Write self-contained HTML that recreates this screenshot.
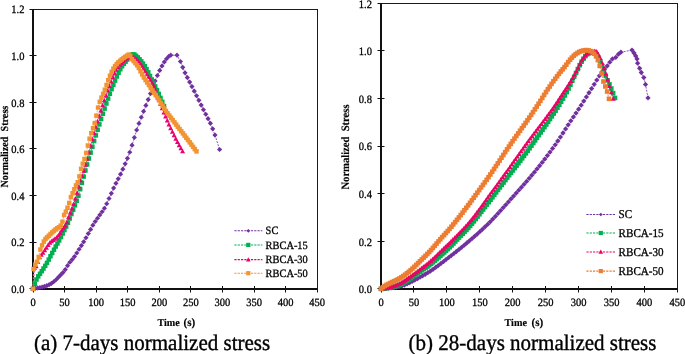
<!DOCTYPE html>
<html><head><meta charset="utf-8"><style>
html,body{margin:0;padding:0;background:#fff;}
body{width:685px;height:354px;overflow:hidden;}
svg{display:block;font-family:"Liberation Serif", serif;will-change:transform;text-rendering:geometricPrecision;}
text{fill:#000;}
.t{stroke:#000;stroke-width:0.28px;}
.b{stroke:#000;stroke-width:0.15px;}
.c{stroke:#000;stroke-width:0.35px;}
</style></head><body>
<svg width="685" height="354" viewBox="0 0 685 354">
<line x1="33" y1="9.5" x2="318.0" y2="9.5" stroke="#1a1a1a" stroke-width="1"/>
<line x1="317.5" y1="9.5" x2="317.5" y2="292.5" stroke="#1a1a1a" stroke-width="1"/>
<line x1="33" y1="9.0" x2="33" y2="290" stroke="#111" stroke-width="2"/>
<line x1="32" y1="289" x2="317.5" y2="289" stroke="#111" stroke-width="2"/>
<line x1="29.5" y1="288.5" x2="36.5" y2="288.5" stroke="#111" stroke-width="1"/>
<text class="t" transform="translate(24.40,293.10) scale(1,1.07)" font-size="10.5" text-anchor="end" xml:space="preserve">0.0</text>
<line x1="29.5" y1="242.5" x2="36.5" y2="242.5" stroke="#111" stroke-width="1"/>
<text class="t" transform="translate(24.40,246.47) scale(1,1.07)" font-size="10.5" text-anchor="end" xml:space="preserve">0.2</text>
<line x1="29.5" y1="195.5" x2="36.5" y2="195.5" stroke="#111" stroke-width="1"/>
<text class="t" transform="translate(24.40,199.83) scale(1,1.07)" font-size="10.5" text-anchor="end" xml:space="preserve">0.4</text>
<line x1="29.5" y1="148.5" x2="36.5" y2="148.5" stroke="#111" stroke-width="1"/>
<text class="t" transform="translate(24.40,153.20) scale(1,1.07)" font-size="10.5" text-anchor="end" xml:space="preserve">0.6</text>
<line x1="29.5" y1="102.5" x2="36.5" y2="102.5" stroke="#111" stroke-width="1"/>
<text class="t" transform="translate(24.40,106.57) scale(1,1.07)" font-size="10.5" text-anchor="end" xml:space="preserve">0.8</text>
<line x1="29.5" y1="55.5" x2="36.5" y2="55.5" stroke="#111" stroke-width="1"/>
<text class="t" transform="translate(24.40,59.93) scale(1,1.07)" font-size="10.5" text-anchor="end" xml:space="preserve">1.0</text>
<line x1="29.5" y1="9.5" x2="33" y2="9.5" stroke="#111" stroke-width="1"/>
<text class="t" transform="translate(24.40,13.30) scale(1,1.07)" font-size="10.5" text-anchor="end" xml:space="preserve">1.2</text>
<line x1="33.5" y1="286" x2="33.5" y2="292.5" stroke="#111" stroke-width="1"/>
<text class="t" transform="translate(33.00,306.00) scale(1,1.07)" font-size="10.5" text-anchor="middle" xml:space="preserve">0</text>
<line x1="64.5" y1="286" x2="64.5" y2="292.5" stroke="#111" stroke-width="1"/>
<text class="t" transform="translate(64.58,306.00) scale(1,1.07)" font-size="10.5" text-anchor="middle" xml:space="preserve">50</text>
<line x1="96.5" y1="286" x2="96.5" y2="292.5" stroke="#111" stroke-width="1"/>
<text class="t" transform="translate(96.16,306.00) scale(1,1.07)" font-size="10.5" text-anchor="middle" xml:space="preserve">100</text>
<line x1="127.5" y1="286" x2="127.5" y2="292.5" stroke="#111" stroke-width="1"/>
<text class="t" transform="translate(127.73,306.00) scale(1,1.07)" font-size="10.5" text-anchor="middle" xml:space="preserve">150</text>
<line x1="159.5" y1="286" x2="159.5" y2="292.5" stroke="#111" stroke-width="1"/>
<text class="t" transform="translate(159.31,306.00) scale(1,1.07)" font-size="10.5" text-anchor="middle" xml:space="preserve">200</text>
<line x1="190.5" y1="286" x2="190.5" y2="292.5" stroke="#111" stroke-width="1"/>
<text class="t" transform="translate(190.89,306.00) scale(1,1.07)" font-size="10.5" text-anchor="middle" xml:space="preserve">250</text>
<line x1="222.5" y1="286" x2="222.5" y2="292.5" stroke="#111" stroke-width="1"/>
<text class="t" transform="translate(222.47,306.00) scale(1,1.07)" font-size="10.5" text-anchor="middle" xml:space="preserve">300</text>
<line x1="254.5" y1="286" x2="254.5" y2="292.5" stroke="#111" stroke-width="1"/>
<text class="t" transform="translate(254.04,306.00) scale(1,1.07)" font-size="10.5" text-anchor="middle" xml:space="preserve">350</text>
<line x1="285.5" y1="286" x2="285.5" y2="292.5" stroke="#111" stroke-width="1"/>
<text class="t" transform="translate(285.62,306.00) scale(1,1.07)" font-size="10.5" text-anchor="middle" xml:space="preserve">400</text>
<text class="t" transform="translate(317.20,306.00) scale(1,1.07)" font-size="10.5" text-anchor="middle" xml:space="preserve">450</text>
<text class="b" transform="translate(8.30,146.60) rotate(-90) scale(1,1.06)" font-size="10.2" text-anchor="middle" font-weight="bold" xml:space="preserve">Normalized  Stress</text>
<text class="b" transform="translate(157.40,326.10) scale(1,1.03)" font-size="10.2" font-weight="bold" xml:space="preserve">Time</text>
<text class="b" transform="translate(183.40,326.10) scale(1,1.03)" font-size="11.2" font-weight="bold" xml:space="preserve">(s)</text>
<path d="M33.00 288.80 L35.30 288.38 L37.61 287.96 L39.91 287.50 L42.21 287.01 L44.52 286.45 L46.82 285.70 L49.13 284.66 L51.43 283.38 L53.73 281.73 L56.04 279.74 L58.34 277.32 L60.64 274.93 L62.95 272.55 L65.25 269.62 L67.56 265.70 L69.86 262.27 L72.16 259.57 L74.47 256.60 L76.77 252.98 L79.07 249.22 L81.38 245.56 L83.68 241.80 L85.99 237.78 L88.29 233.62 L90.59 229.38 L92.90 225.15 L95.20 221.49 L97.50 218.21 L99.81 214.93 L102.11 211.75 L104.41 208.24 L106.72 203.75 L109.02 198.48 L111.33 193.31 L113.63 188.12 L115.93 183.30 L118.24 178.83 L120.54 174.14 L122.84 169.14 L125.15 163.85 L127.45 158.30 L129.76 152.25 L132.06 145.18 L134.36 137.47 L136.67 129.99 L138.97 123.39 L141.27 117.28 L143.58 111.35 L145.88 105.42 L148.19 99.57 L150.49 93.56 L152.79 87.17 L155.10 80.99 L157.40 75.49 L159.70 70.41 L162.01 65.96 L164.31 61.94 L166.61 58.78 L168.92 56.27 L170.80 55.20 L177.00 55.20 L180.44 61.48 L182.74 67.34 L185.04 72.84 L187.35 77.60 L189.65 82.07 L191.96 86.57 L194.26 91.13 L196.56 95.72 L198.87 100.36 L201.17 105.05 L203.47 109.74 L205.78 114.27 L208.08 118.63 L210.39 123.32 L212.69 128.82 L214.99 135.10 L219.60 149.50" fill="none" stroke="#7030A0" stroke-width="0.8" stroke-dasharray="2 1.2"/>
<g><path d="M33.00 286.21L35.59 288.80L33.00 291.39L30.41 288.80Z" fill="#7030A0"/><path d="M35.30 285.79L37.89 288.38L35.30 290.97L32.72 288.38Z" fill="#7030A0"/><path d="M37.61 285.37L40.19 287.96L37.61 290.54L35.02 287.96Z" fill="#7030A0"/><path d="M39.91 284.92L42.50 287.50L39.91 290.09L37.32 287.50Z" fill="#7030A0"/><path d="M42.21 284.42L44.80 287.01L42.21 289.60L39.63 287.01Z" fill="#7030A0"/><path d="M44.52 283.86L47.11 286.45L44.52 289.04L41.93 286.45Z" fill="#7030A0"/><path d="M46.82 283.11L49.41 285.70L46.82 288.29L44.23 285.70Z" fill="#7030A0"/><path d="M49.13 282.07L51.71 284.66L49.13 287.25L46.54 284.66Z" fill="#7030A0"/><path d="M51.43 280.80L54.02 283.38L51.43 285.97L48.84 283.38Z" fill="#7030A0"/><path d="M53.73 279.15L56.32 281.73L53.73 284.32L51.15 281.73Z" fill="#7030A0"/><path d="M56.04 277.15L58.62 279.74L56.04 282.32L53.45 279.74Z" fill="#7030A0"/><path d="M58.34 274.73L60.93 277.32L58.34 279.90L55.75 277.32Z" fill="#7030A0"/><path d="M60.64 272.34L63.23 274.93L60.64 277.52L58.06 274.93Z" fill="#7030A0"/><path d="M62.95 269.96L65.54 272.55L62.95 275.14L60.36 272.55Z" fill="#7030A0"/><path d="M65.25 267.04L67.84 269.62L65.25 272.21L62.66 269.62Z" fill="#7030A0"/><path d="M67.56 263.11L70.14 265.70L67.56 268.28L64.97 265.70Z" fill="#7030A0"/><path d="M69.86 259.68L72.45 262.27L69.86 264.85L67.27 262.27Z" fill="#7030A0"/><path d="M72.16 256.98L74.75 259.57L72.16 262.16L69.58 259.57Z" fill="#7030A0"/><path d="M74.47 254.01L77.05 256.60L74.47 259.18L71.88 256.60Z" fill="#7030A0"/><path d="M76.77 250.39L79.36 252.98L76.77 255.57L74.18 252.98Z" fill="#7030A0"/><path d="M79.07 246.63L81.66 249.22L79.07 251.81L76.49 249.22Z" fill="#7030A0"/><path d="M81.38 242.98L83.97 245.56L81.38 248.15L78.79 245.56Z" fill="#7030A0"/><path d="M83.68 239.21L86.27 241.80L83.68 244.39L81.09 241.80Z" fill="#7030A0"/><path d="M85.99 235.19L88.57 237.78L85.99 240.37L83.40 237.78Z" fill="#7030A0"/><path d="M88.29 231.03L90.88 233.62L88.29 236.21L85.70 233.62Z" fill="#7030A0"/><path d="M90.59 226.79L93.18 229.38L90.59 231.96L88.01 229.38Z" fill="#7030A0"/><path d="M92.90 222.56L95.48 225.15L92.90 227.74L90.31 225.15Z" fill="#7030A0"/><path d="M95.20 218.91L97.79 221.49L95.20 224.08L92.61 221.49Z" fill="#7030A0"/><path d="M97.50 215.63L100.09 218.21L97.50 220.80L94.92 218.21Z" fill="#7030A0"/><path d="M99.81 212.34L102.39 214.93L99.81 217.51L97.22 214.93Z" fill="#7030A0"/><path d="M102.11 209.16L104.70 211.75L102.11 214.34L99.52 211.75Z" fill="#7030A0"/><path d="M104.41 205.65L107.00 208.24L104.41 210.82L101.83 208.24Z" fill="#7030A0"/><path d="M106.72 201.16L109.31 203.75L106.72 206.34L104.13 203.75Z" fill="#7030A0"/><path d="M109.02 195.89L111.61 198.48L109.02 201.07L106.43 198.48Z" fill="#7030A0"/><path d="M111.33 190.72L113.91 193.31L111.33 195.89L108.74 193.31Z" fill="#7030A0"/><path d="M113.63 185.53L116.22 188.12L113.63 190.71L111.04 188.12Z" fill="#7030A0"/><path d="M115.93 180.71L118.52 183.30L115.93 185.89L113.35 183.30Z" fill="#7030A0"/><path d="M118.24 176.25L120.82 178.83L118.24 181.42L115.65 178.83Z" fill="#7030A0"/><path d="M120.54 171.56L123.13 174.14L120.54 176.73L117.95 174.14Z" fill="#7030A0"/><path d="M122.84 166.55L125.43 169.14L122.84 171.73L120.26 169.14Z" fill="#7030A0"/><path d="M125.15 161.26L127.74 163.85L125.15 166.44L122.56 163.85Z" fill="#7030A0"/><path d="M127.45 155.71L130.04 158.30L127.45 160.89L124.86 158.30Z" fill="#7030A0"/><path d="M129.76 149.66L132.34 152.25L129.76 154.83L127.17 152.25Z" fill="#7030A0"/><path d="M132.06 142.59L134.65 145.18L132.06 147.77L129.47 145.18Z" fill="#7030A0"/><path d="M134.36 134.88L136.95 137.47L134.36 140.06L131.78 137.47Z" fill="#7030A0"/><path d="M136.67 127.40L139.25 129.99L136.67 132.58L134.08 129.99Z" fill="#7030A0"/><path d="M138.97 120.80L141.56 123.39L138.97 125.98L136.38 123.39Z" fill="#7030A0"/><path d="M141.27 114.69L143.86 117.28L141.27 119.86L138.69 117.28Z" fill="#7030A0"/><path d="M143.58 108.77L146.17 111.35L143.58 113.94L140.99 111.35Z" fill="#7030A0"/><path d="M145.88 102.83L148.47 105.42L145.88 108.00L143.29 105.42Z" fill="#7030A0"/><path d="M148.19 96.98L150.77 99.57L148.19 102.15L145.60 99.57Z" fill="#7030A0"/><path d="M150.49 90.97L153.08 93.56L150.49 96.15L147.90 93.56Z" fill="#7030A0"/><path d="M152.79 84.58L155.38 87.17L152.79 89.76L150.21 87.17Z" fill="#7030A0"/><path d="M155.10 78.40L157.68 80.99L155.10 83.58L152.51 80.99Z" fill="#7030A0"/><path d="M157.40 72.90L159.99 75.49L157.40 78.08L154.81 75.49Z" fill="#7030A0"/><path d="M159.70 67.82L162.29 70.41L159.70 73.00L157.12 70.41Z" fill="#7030A0"/><path d="M162.01 63.37L164.59 65.96L162.01 68.55L159.42 65.96Z" fill="#7030A0"/><path d="M164.31 59.35L166.90 61.94L164.31 64.53L161.72 61.94Z" fill="#7030A0"/><path d="M166.61 56.20L169.20 58.78L166.61 61.37L164.03 58.78Z" fill="#7030A0"/><path d="M168.92 53.68L171.51 56.27L168.92 58.86L166.33 56.27Z" fill="#7030A0"/><path d="M170.80 52.61L173.39 55.20L170.80 57.79L168.21 55.20Z" fill="#7030A0"/><path d="M177.00 52.61L179.59 55.20L177.00 57.79L174.41 55.20Z" fill="#7030A0"/><path d="M180.44 58.89L183.02 61.48L180.44 64.06L177.85 61.48Z" fill="#7030A0"/><path d="M182.74 64.75L185.33 67.34L182.74 69.93L180.15 67.34Z" fill="#7030A0"/><path d="M185.04 70.26L187.63 72.84L185.04 75.43L182.46 72.84Z" fill="#7030A0"/><path d="M187.35 75.01L189.94 77.60L187.35 80.19L184.76 77.60Z" fill="#7030A0"/><path d="M189.65 79.49L192.24 82.07L189.65 84.66L187.06 82.07Z" fill="#7030A0"/><path d="M191.96 83.98L194.54 86.57L191.96 89.16L189.37 86.57Z" fill="#7030A0"/><path d="M194.26 88.54L196.85 91.13L194.26 93.71L191.67 91.13Z" fill="#7030A0"/><path d="M196.56 93.13L199.15 95.72L196.56 98.31L193.98 95.72Z" fill="#7030A0"/><path d="M198.87 97.77L201.45 100.36L198.87 102.95L196.28 100.36Z" fill="#7030A0"/><path d="M201.17 102.47L203.76 105.05L201.17 107.64L198.58 105.05Z" fill="#7030A0"/><path d="M203.47 107.15L206.06 109.74L203.47 112.33L200.89 109.74Z" fill="#7030A0"/><path d="M205.78 111.68L208.37 114.27L205.78 116.85L203.19 114.27Z" fill="#7030A0"/><path d="M208.08 116.04L210.67 118.63L208.08 121.22L205.49 118.63Z" fill="#7030A0"/><path d="M210.39 120.74L212.97 123.32L210.39 125.91L207.80 123.32Z" fill="#7030A0"/><path d="M212.69 126.24L215.28 128.82L212.69 131.41L210.10 128.82Z" fill="#7030A0"/><path d="M214.99 132.51L217.58 135.10L214.99 137.69L212.41 135.10Z" fill="#7030A0"/><path d="M219.60 146.91L222.19 149.50L219.60 152.09L217.01 149.50Z" fill="#7030A0"/></g>
<path d="M33.00 288.80 L34.75 283.75 L36.49 279.53 L38.24 276.34 L39.99 273.78 L41.73 271.18 L43.48 268.55 L45.23 265.84 L46.97 262.87 L48.72 259.59 L50.47 256.25 L52.21 252.97 L53.96 249.69 L55.71 246.52 L57.45 243.51 L59.20 240.44 L60.95 237.07 L62.69 233.52 L64.44 230.05 L66.19 226.54 L67.93 222.78 L69.68 218.54 L71.43 214.08 L73.17 209.76 L74.92 205.35 L76.67 200.81 L78.41 195.73 L80.16 189.21 L81.91 182.90 L83.65 176.61 L85.40 170.50 L87.15 164.46 L88.89 158.50 L90.64 152.60 L92.39 146.79 L94.13 141.06 L95.88 135.41 L97.63 129.86 L99.37 124.41 L101.12 119.05 L102.87 113.77 L104.61 108.59 L106.36 103.52 L108.11 98.59 L109.85 93.80 L111.60 89.20 L113.35 84.83 L115.09 80.60 L116.84 76.51 L118.59 72.77 L120.33 69.29 L122.08 66.24 L123.83 63.79 L125.57 61.68 L127.32 59.51 L129.07 56.90 L130.81 54.99 L132.56 54.42 L134.31 54.48 L136.05 55.83 L137.80 57.39 L139.55 59.28 L141.29 61.34 L143.04 63.63 L144.79 66.19 L146.53 69.11 L148.28 72.36 L150.03 75.94 L151.77 79.43 L153.52 82.88 L155.27 86.45 L157.01 90.16 L158.76 93.96 L160.51 97.86 L162.25 101.85 L164.00 106.00" fill="none" stroke="#00B050" stroke-width="0.8" stroke-dasharray="2 1.2"/>
<g><rect x="30.75" y="286.55" width="4.50" height="4.50" fill="#00B050"/><rect x="32.50" y="281.50" width="4.50" height="4.50" fill="#00B050"/><rect x="34.24" y="277.28" width="4.50" height="4.50" fill="#00B050"/><rect x="35.99" y="274.09" width="4.50" height="4.50" fill="#00B050"/><rect x="37.74" y="271.53" width="4.50" height="4.50" fill="#00B050"/><rect x="39.48" y="268.93" width="4.50" height="4.50" fill="#00B050"/><rect x="41.23" y="266.30" width="4.50" height="4.50" fill="#00B050"/><rect x="42.98" y="263.59" width="4.50" height="4.50" fill="#00B050"/><rect x="44.72" y="260.62" width="4.50" height="4.50" fill="#00B050"/><rect x="46.47" y="257.34" width="4.50" height="4.50" fill="#00B050"/><rect x="48.22" y="254.00" width="4.50" height="4.50" fill="#00B050"/><rect x="49.96" y="250.72" width="4.50" height="4.50" fill="#00B050"/><rect x="51.71" y="247.44" width="4.50" height="4.50" fill="#00B050"/><rect x="53.46" y="244.27" width="4.50" height="4.50" fill="#00B050"/><rect x="55.20" y="241.26" width="4.50" height="4.50" fill="#00B050"/><rect x="56.95" y="238.19" width="4.50" height="4.50" fill="#00B050"/><rect x="58.70" y="234.82" width="4.50" height="4.50" fill="#00B050"/><rect x="60.44" y="231.27" width="4.50" height="4.50" fill="#00B050"/><rect x="62.19" y="227.80" width="4.50" height="4.50" fill="#00B050"/><rect x="63.94" y="224.29" width="4.50" height="4.50" fill="#00B050"/><rect x="65.68" y="220.53" width="4.50" height="4.50" fill="#00B050"/><rect x="67.43" y="216.29" width="4.50" height="4.50" fill="#00B050"/><rect x="69.18" y="211.83" width="4.50" height="4.50" fill="#00B050"/><rect x="70.92" y="207.51" width="4.50" height="4.50" fill="#00B050"/><rect x="72.67" y="203.10" width="4.50" height="4.50" fill="#00B050"/><rect x="74.42" y="198.56" width="4.50" height="4.50" fill="#00B050"/><rect x="76.16" y="193.48" width="4.50" height="4.50" fill="#00B050"/><rect x="77.91" y="186.96" width="4.50" height="4.50" fill="#00B050"/><rect x="79.66" y="180.65" width="4.50" height="4.50" fill="#00B050"/><rect x="81.40" y="174.36" width="4.50" height="4.50" fill="#00B050"/><rect x="83.15" y="168.25" width="4.50" height="4.50" fill="#00B050"/><rect x="84.90" y="162.21" width="4.50" height="4.50" fill="#00B050"/><rect x="86.64" y="156.25" width="4.50" height="4.50" fill="#00B050"/><rect x="88.39" y="150.35" width="4.50" height="4.50" fill="#00B050"/><rect x="90.14" y="144.54" width="4.50" height="4.50" fill="#00B050"/><rect x="91.88" y="138.81" width="4.50" height="4.50" fill="#00B050"/><rect x="93.63" y="133.16" width="4.50" height="4.50" fill="#00B050"/><rect x="95.38" y="127.61" width="4.50" height="4.50" fill="#00B050"/><rect x="97.12" y="122.16" width="4.50" height="4.50" fill="#00B050"/><rect x="98.87" y="116.80" width="4.50" height="4.50" fill="#00B050"/><rect x="100.62" y="111.52" width="4.50" height="4.50" fill="#00B050"/><rect x="102.36" y="106.34" width="4.50" height="4.50" fill="#00B050"/><rect x="104.11" y="101.27" width="4.50" height="4.50" fill="#00B050"/><rect x="105.86" y="96.34" width="4.50" height="4.50" fill="#00B050"/><rect x="107.60" y="91.55" width="4.50" height="4.50" fill="#00B050"/><rect x="109.35" y="86.95" width="4.50" height="4.50" fill="#00B050"/><rect x="111.10" y="82.58" width="4.50" height="4.50" fill="#00B050"/><rect x="112.84" y="78.35" width="4.50" height="4.50" fill="#00B050"/><rect x="114.59" y="74.26" width="4.50" height="4.50" fill="#00B050"/><rect x="116.34" y="70.52" width="4.50" height="4.50" fill="#00B050"/><rect x="118.08" y="67.04" width="4.50" height="4.50" fill="#00B050"/><rect x="119.83" y="63.99" width="4.50" height="4.50" fill="#00B050"/><rect x="121.58" y="61.54" width="4.50" height="4.50" fill="#00B050"/><rect x="123.32" y="59.43" width="4.50" height="4.50" fill="#00B050"/><rect x="125.07" y="57.26" width="4.50" height="4.50" fill="#00B050"/><rect x="126.82" y="54.65" width="4.50" height="4.50" fill="#00B050"/><rect x="128.56" y="52.74" width="4.50" height="4.50" fill="#00B050"/><rect x="130.31" y="52.17" width="4.50" height="4.50" fill="#00B050"/><rect x="132.06" y="52.23" width="4.50" height="4.50" fill="#00B050"/><rect x="133.80" y="53.58" width="4.50" height="4.50" fill="#00B050"/><rect x="135.55" y="55.14" width="4.50" height="4.50" fill="#00B050"/><rect x="137.30" y="57.03" width="4.50" height="4.50" fill="#00B050"/><rect x="139.04" y="59.09" width="4.50" height="4.50" fill="#00B050"/><rect x="140.79" y="61.38" width="4.50" height="4.50" fill="#00B050"/><rect x="142.54" y="63.94" width="4.50" height="4.50" fill="#00B050"/><rect x="144.28" y="66.86" width="4.50" height="4.50" fill="#00B050"/><rect x="146.03" y="70.11" width="4.50" height="4.50" fill="#00B050"/><rect x="147.78" y="73.69" width="4.50" height="4.50" fill="#00B050"/><rect x="149.52" y="77.18" width="4.50" height="4.50" fill="#00B050"/><rect x="151.27" y="80.63" width="4.50" height="4.50" fill="#00B050"/><rect x="153.02" y="84.20" width="4.50" height="4.50" fill="#00B050"/><rect x="154.76" y="87.91" width="4.50" height="4.50" fill="#00B050"/><rect x="156.51" y="91.71" width="4.50" height="4.50" fill="#00B050"/><rect x="158.26" y="95.61" width="4.50" height="4.50" fill="#00B050"/><rect x="160.00" y="99.60" width="4.50" height="4.50" fill="#00B050"/><rect x="161.75" y="103.75" width="4.50" height="4.50" fill="#00B050"/></g>
<path d="M33.00 288.80 L34.50 268.00 L36.20 266.43 L37.90 262.03 L39.61 257.25 L41.31 254.93 L43.01 252.77 L44.71 250.36 L46.42 247.87 L48.12 245.09 L49.82 242.77 L51.52 241.33 L53.23 240.05 L54.93 238.88 L56.63 237.56 L58.33 235.59 L60.03 233.14 L61.74 230.39 L63.44 227.84 L65.14 225.84 L66.84 222.24 L68.55 217.38 L70.25 212.78 L71.95 208.68 L73.65 204.06 L75.36 198.49 L77.06 192.84 L78.76 186.66 L80.46 180.38 L82.16 176.03 L83.87 170.74 L85.57 164.95 L87.27 158.78 L88.97 152.36 L90.68 145.84 L92.38 139.34 L94.08 132.99 L95.78 126.92 L97.49 121.25 L99.19 115.85 L100.89 110.58 L102.59 105.45 L104.29 100.44 L106.00 95.52 L107.70 90.70 L109.40 85.97 L111.10 81.48 L112.81 77.30 L114.51 73.29 L116.21 69.86 L117.91 67.20 L119.61 64.94 L121.32 63.00 L123.02 61.33 L124.72 59.93 L126.42 58.70 L128.13 57.60 L129.83 56.65 L131.53 56.35 L133.23 56.99 L134.94 57.98 L136.64 59.38 L138.34 61.25 L140.04 63.36 L141.74 65.90 L143.45 68.64 L145.15 71.39 L146.85 74.22 L148.55 77.02 L150.26 79.82 L151.96 82.61 L153.66 85.61 L155.36 89.63 L157.07 94.50 L158.77 99.38 L160.47 103.86 L162.17 108.25 L163.87 112.54 L165.58 116.67 L167.28 120.70 L168.98 124.60 L170.68 128.35 L172.39 131.94 L174.09 135.39 L175.79 138.74 L177.49 142.02 L179.20 145.23 L180.90 148.36 L182.60 151.40" fill="none" stroke="#EB0070" stroke-width="0.8" stroke-dasharray="2 1.2"/>
<g><path d="M33.00 286.21L35.48 290.71L30.52 290.71Z" fill="#EB0070"/><path d="M34.50 265.41L36.98 269.91L32.02 269.91Z" fill="#EB0070"/><path d="M36.20 263.84L38.68 268.34L33.73 268.34Z" fill="#EB0070"/><path d="M37.90 259.44L40.38 263.94L35.43 263.94Z" fill="#EB0070"/><path d="M39.61 254.67L42.08 259.17L37.13 259.17Z" fill="#EB0070"/><path d="M41.31 252.34L43.78 256.84L38.83 256.84Z" fill="#EB0070"/><path d="M43.01 250.18L45.49 254.68L40.54 254.68Z" fill="#EB0070"/><path d="M44.71 247.77L47.19 252.27L42.24 252.27Z" fill="#EB0070"/><path d="M46.42 245.29L48.89 249.79L43.94 249.79Z" fill="#EB0070"/><path d="M48.12 242.50L50.59 247.00L45.64 247.00Z" fill="#EB0070"/><path d="M49.82 240.18L52.30 244.68L47.35 244.68Z" fill="#EB0070"/><path d="M51.52 238.74L54.00 243.24L49.05 243.24Z" fill="#EB0070"/><path d="M53.23 237.47L55.70 241.97L50.75 241.97Z" fill="#EB0070"/><path d="M54.93 236.30L57.40 240.80L52.45 240.80Z" fill="#EB0070"/><path d="M56.63 234.97L59.10 239.47L54.15 239.47Z" fill="#EB0070"/><path d="M58.33 233.00L60.81 237.50L55.86 237.50Z" fill="#EB0070"/><path d="M60.03 230.55L62.51 235.05L57.56 235.05Z" fill="#EB0070"/><path d="M61.74 227.80L64.21 232.30L59.26 232.30Z" fill="#EB0070"/><path d="M63.44 225.26L65.91 229.76L60.96 229.76Z" fill="#EB0070"/><path d="M65.14 223.26L67.62 227.76L62.67 227.76Z" fill="#EB0070"/><path d="M66.84 219.65L69.32 224.15L64.37 224.15Z" fill="#EB0070"/><path d="M68.55 214.79L71.02 219.29L66.07 219.29Z" fill="#EB0070"/><path d="M70.25 210.19L72.72 214.69L67.77 214.69Z" fill="#EB0070"/><path d="M71.95 206.09L74.43 210.59L69.48 210.59Z" fill="#EB0070"/><path d="M73.65 201.48L76.13 205.98L71.18 205.98Z" fill="#EB0070"/><path d="M75.36 195.90L77.83 200.40L72.88 200.40Z" fill="#EB0070"/><path d="M77.06 190.26L79.53 194.76L74.58 194.76Z" fill="#EB0070"/><path d="M78.76 184.07L81.23 188.57L76.28 188.57Z" fill="#EB0070"/><path d="M80.46 177.80L82.94 182.30L77.99 182.30Z" fill="#EB0070"/><path d="M82.16 173.44L84.64 177.94L79.69 177.94Z" fill="#EB0070"/><path d="M83.87 168.15L86.34 172.65L81.39 172.65Z" fill="#EB0070"/><path d="M85.57 162.36L88.04 166.86L83.09 166.86Z" fill="#EB0070"/><path d="M87.27 156.19L89.75 160.69L84.80 160.69Z" fill="#EB0070"/><path d="M88.97 149.78L91.45 154.28L86.50 154.28Z" fill="#EB0070"/><path d="M90.68 143.25L93.15 147.75L88.20 147.75Z" fill="#EB0070"/><path d="M92.38 136.75L94.85 141.25L89.90 141.25Z" fill="#EB0070"/><path d="M94.08 130.40L96.56 134.90L91.61 134.90Z" fill="#EB0070"/><path d="M95.78 124.33L98.26 128.83L93.31 128.83Z" fill="#EB0070"/><path d="M97.49 118.67L99.96 123.17L95.01 123.17Z" fill="#EB0070"/><path d="M99.19 113.26L101.66 117.76L96.71 117.76Z" fill="#EB0070"/><path d="M100.89 107.99L103.36 112.49L98.41 112.49Z" fill="#EB0070"/><path d="M102.59 102.86L105.07 107.36L100.12 107.36Z" fill="#EB0070"/><path d="M104.29 97.85L106.77 102.35L101.82 102.35Z" fill="#EB0070"/><path d="M106.00 92.94L108.47 97.44L103.52 97.44Z" fill="#EB0070"/><path d="M107.70 88.12L110.17 92.62L105.22 92.62Z" fill="#EB0070"/><path d="M109.40 83.38L111.88 87.88L106.93 87.88Z" fill="#EB0070"/><path d="M111.10 78.89L113.58 83.39L108.63 83.39Z" fill="#EB0070"/><path d="M112.81 74.71L115.28 79.21L110.33 79.21Z" fill="#EB0070"/><path d="M114.51 70.70L116.98 75.20L112.03 75.20Z" fill="#EB0070"/><path d="M116.21 67.27L118.69 71.77L113.74 71.77Z" fill="#EB0070"/><path d="M117.91 64.61L120.39 69.11L115.44 69.11Z" fill="#EB0070"/><path d="M119.61 62.35L122.09 66.85L117.14 66.85Z" fill="#EB0070"/><path d="M121.32 60.41L123.79 64.91L118.84 64.91Z" fill="#EB0070"/><path d="M123.02 58.74L125.49 63.24L120.54 63.24Z" fill="#EB0070"/><path d="M124.72 57.35L127.20 61.85L122.25 61.85Z" fill="#EB0070"/><path d="M126.42 56.11L128.90 60.61L123.95 60.61Z" fill="#EB0070"/><path d="M128.13 55.02L130.60 59.52L125.65 59.52Z" fill="#EB0070"/><path d="M129.83 54.06L132.30 58.56L127.35 58.56Z" fill="#EB0070"/><path d="M131.53 53.76L134.01 58.26L129.06 58.26Z" fill="#EB0070"/><path d="M133.23 54.40L135.71 58.90L130.76 58.90Z" fill="#EB0070"/><path d="M134.94 55.39L137.41 59.89L132.46 59.89Z" fill="#EB0070"/><path d="M136.64 56.79L139.11 61.29L134.16 61.29Z" fill="#EB0070"/><path d="M138.34 58.67L140.82 63.17L135.87 63.17Z" fill="#EB0070"/><path d="M140.04 60.77L142.52 65.27L137.57 65.27Z" fill="#EB0070"/><path d="M141.74 63.31L144.22 67.81L139.27 67.81Z" fill="#EB0070"/><path d="M143.45 66.05L145.92 70.55L140.97 70.55Z" fill="#EB0070"/><path d="M145.15 68.80L147.62 73.30L142.67 73.30Z" fill="#EB0070"/><path d="M146.85 71.64L149.33 76.14L144.38 76.14Z" fill="#EB0070"/><path d="M148.55 74.43L151.03 78.93L146.08 78.93Z" fill="#EB0070"/><path d="M150.26 77.24L152.73 81.74L147.78 81.74Z" fill="#EB0070"/><path d="M151.96 80.02L154.43 84.52L149.48 84.52Z" fill="#EB0070"/><path d="M153.66 83.03L156.14 87.53L151.19 87.53Z" fill="#EB0070"/><path d="M155.36 87.05L157.84 91.55L152.89 91.55Z" fill="#EB0070"/><path d="M157.07 91.91L159.54 96.41L154.59 96.41Z" fill="#EB0070"/><path d="M158.77 96.79L161.24 101.29L156.29 101.29Z" fill="#EB0070"/><path d="M160.47 101.27L162.95 105.77L158.00 105.77Z" fill="#EB0070"/><path d="M162.17 105.67L164.65 110.17L159.70 110.17Z" fill="#EB0070"/><path d="M163.87 109.95L166.35 114.45L161.40 114.45Z" fill="#EB0070"/><path d="M165.58 114.08L168.05 118.58L163.10 118.58Z" fill="#EB0070"/><path d="M167.28 118.11L169.75 122.61L164.80 122.61Z" fill="#EB0070"/><path d="M168.98 122.01L171.46 126.51L166.51 126.51Z" fill="#EB0070"/><path d="M170.68 125.76L173.16 130.26L168.21 130.26Z" fill="#EB0070"/><path d="M172.39 129.35L174.86 133.85L169.91 133.85Z" fill="#EB0070"/><path d="M174.09 132.80L176.56 137.30L171.61 137.30Z" fill="#EB0070"/><path d="M175.79 136.15L178.27 140.65L173.32 140.65Z" fill="#EB0070"/><path d="M177.49 139.43L179.97 143.93L175.02 143.93Z" fill="#EB0070"/><path d="M179.20 142.64L181.67 147.14L176.72 147.14Z" fill="#EB0070"/><path d="M180.90 145.77L183.37 150.27L178.42 150.27Z" fill="#EB0070"/><path d="M182.60 148.81L185.07 153.31L180.12 153.31Z" fill="#EB0070"/></g>
<path d="M33.00 288.80 L33.60 269.00 L35.30 264.58 L36.99 261.69 L38.69 256.89 L40.39 249.52 L42.08 245.33 L43.78 241.57 L45.48 238.98 L47.18 237.34 L48.87 235.72 L50.57 234.00 L52.27 232.38 L53.96 230.86 L55.66 229.44 L57.36 228.21 L59.05 227.20 L60.75 225.66 L62.45 221.66 L64.14 214.95 L65.84 211.65 L67.54 207.75 L69.23 202.95 L70.93 197.16 L72.63 193.19 L74.33 189.25 L76.02 185.44 L77.72 182.22 L79.42 176.40 L81.11 168.80 L82.81 163.67 L84.51 158.95 L86.20 152.95 L87.90 145.53 L89.60 138.66 L91.29 133.15 L92.99 128.18 L94.69 123.09 L96.38 115.64 L98.08 107.57 L99.78 101.80 L101.47 97.63 L103.17 93.89 L104.87 89.72 L106.57 84.95 L108.26 80.27 L109.96 75.73 L111.66 71.90 L113.35 68.70 L115.05 66.15 L116.75 64.04 L118.44 62.26 L120.14 60.73 L121.84 59.36 L123.53 58.06 L125.23 56.86 L126.93 55.72 L128.62 54.64 L130.32 55.95 L132.02 59.15 L133.72 61.13 L135.41 63.16 L137.11 65.32 L138.81 67.93 L140.50 71.26 L142.20 74.49 L143.90 77.51 L145.59 80.14 L147.29 82.51 L148.99 85.12 L150.68 88.00 L152.38 90.55 L154.08 92.91 L155.78 95.25 L157.47 97.71 L159.17 100.36 L160.87 103.12 L162.56 105.87 L164.26 108.50 L165.96 110.96 L167.65 113.32 L169.35 115.62 L171.05 117.88 L172.74 120.11 L174.44 122.34 L176.14 124.58 L177.83 126.81 L179.53 129.02 L181.23 131.21 L182.93 133.41 L184.62 135.61 L186.32 137.83 L188.02 140.07 L189.71 142.32 L191.41 144.58 L193.11 146.84 L194.80 149.12 L196.50 151.40" fill="none" stroke="#F29432" stroke-width="0.8" stroke-dasharray="2 1.2"/>
<g><rect x="30.75" y="286.55" width="4.50" height="4.50" fill="#F29432"/><rect x="31.35" y="266.75" width="4.50" height="4.50" fill="#F29432"/><rect x="33.05" y="262.33" width="4.50" height="4.50" fill="#F29432"/><rect x="34.74" y="259.44" width="4.50" height="4.50" fill="#F29432"/><rect x="36.44" y="254.64" width="4.50" height="4.50" fill="#F29432"/><rect x="38.14" y="247.27" width="4.50" height="4.50" fill="#F29432"/><rect x="39.83" y="243.08" width="4.50" height="4.50" fill="#F29432"/><rect x="41.53" y="239.32" width="4.50" height="4.50" fill="#F29432"/><rect x="43.23" y="236.73" width="4.50" height="4.50" fill="#F29432"/><rect x="44.93" y="235.09" width="4.50" height="4.50" fill="#F29432"/><rect x="46.62" y="233.47" width="4.50" height="4.50" fill="#F29432"/><rect x="48.32" y="231.75" width="4.50" height="4.50" fill="#F29432"/><rect x="50.02" y="230.13" width="4.50" height="4.50" fill="#F29432"/><rect x="51.71" y="228.61" width="4.50" height="4.50" fill="#F29432"/><rect x="53.41" y="227.19" width="4.50" height="4.50" fill="#F29432"/><rect x="55.11" y="225.96" width="4.50" height="4.50" fill="#F29432"/><rect x="56.80" y="224.95" width="4.50" height="4.50" fill="#F29432"/><rect x="58.50" y="223.41" width="4.50" height="4.50" fill="#F29432"/><rect x="60.20" y="219.41" width="4.50" height="4.50" fill="#F29432"/><rect x="61.89" y="212.70" width="4.50" height="4.50" fill="#F29432"/><rect x="63.59" y="209.40" width="4.50" height="4.50" fill="#F29432"/><rect x="65.29" y="205.50" width="4.50" height="4.50" fill="#F29432"/><rect x="66.98" y="200.70" width="4.50" height="4.50" fill="#F29432"/><rect x="68.68" y="194.91" width="4.50" height="4.50" fill="#F29432"/><rect x="70.38" y="190.94" width="4.50" height="4.50" fill="#F29432"/><rect x="72.08" y="187.00" width="4.50" height="4.50" fill="#F29432"/><rect x="73.77" y="183.19" width="4.50" height="4.50" fill="#F29432"/><rect x="75.47" y="179.97" width="4.50" height="4.50" fill="#F29432"/><rect x="77.17" y="174.15" width="4.50" height="4.50" fill="#F29432"/><rect x="78.86" y="166.55" width="4.50" height="4.50" fill="#F29432"/><rect x="80.56" y="161.42" width="4.50" height="4.50" fill="#F29432"/><rect x="82.26" y="156.70" width="4.50" height="4.50" fill="#F29432"/><rect x="83.95" y="150.70" width="4.50" height="4.50" fill="#F29432"/><rect x="85.65" y="143.28" width="4.50" height="4.50" fill="#F29432"/><rect x="87.35" y="136.41" width="4.50" height="4.50" fill="#F29432"/><rect x="89.04" y="130.90" width="4.50" height="4.50" fill="#F29432"/><rect x="90.74" y="125.93" width="4.50" height="4.50" fill="#F29432"/><rect x="92.44" y="120.84" width="4.50" height="4.50" fill="#F29432"/><rect x="94.13" y="113.39" width="4.50" height="4.50" fill="#F29432"/><rect x="95.83" y="105.32" width="4.50" height="4.50" fill="#F29432"/><rect x="97.53" y="99.55" width="4.50" height="4.50" fill="#F29432"/><rect x="99.22" y="95.38" width="4.50" height="4.50" fill="#F29432"/><rect x="100.92" y="91.64" width="4.50" height="4.50" fill="#F29432"/><rect x="102.62" y="87.47" width="4.50" height="4.50" fill="#F29432"/><rect x="104.32" y="82.70" width="4.50" height="4.50" fill="#F29432"/><rect x="106.01" y="78.02" width="4.50" height="4.50" fill="#F29432"/><rect x="107.71" y="73.48" width="4.50" height="4.50" fill="#F29432"/><rect x="109.41" y="69.65" width="4.50" height="4.50" fill="#F29432"/><rect x="111.10" y="66.45" width="4.50" height="4.50" fill="#F29432"/><rect x="112.80" y="63.90" width="4.50" height="4.50" fill="#F29432"/><rect x="114.50" y="61.79" width="4.50" height="4.50" fill="#F29432"/><rect x="116.19" y="60.01" width="4.50" height="4.50" fill="#F29432"/><rect x="117.89" y="58.48" width="4.50" height="4.50" fill="#F29432"/><rect x="119.59" y="57.11" width="4.50" height="4.50" fill="#F29432"/><rect x="121.28" y="55.81" width="4.50" height="4.50" fill="#F29432"/><rect x="122.98" y="54.61" width="4.50" height="4.50" fill="#F29432"/><rect x="124.68" y="53.47" width="4.50" height="4.50" fill="#F29432"/><rect x="126.38" y="52.39" width="4.50" height="4.50" fill="#F29432"/><rect x="128.07" y="53.70" width="4.50" height="4.50" fill="#F29432"/><rect x="129.77" y="56.90" width="4.50" height="4.50" fill="#F29432"/><rect x="131.47" y="58.88" width="4.50" height="4.50" fill="#F29432"/><rect x="133.16" y="60.91" width="4.50" height="4.50" fill="#F29432"/><rect x="134.86" y="63.07" width="4.50" height="4.50" fill="#F29432"/><rect x="136.56" y="65.68" width="4.50" height="4.50" fill="#F29432"/><rect x="138.25" y="69.01" width="4.50" height="4.50" fill="#F29432"/><rect x="139.95" y="72.24" width="4.50" height="4.50" fill="#F29432"/><rect x="141.65" y="75.26" width="4.50" height="4.50" fill="#F29432"/><rect x="143.34" y="77.89" width="4.50" height="4.50" fill="#F29432"/><rect x="145.04" y="80.26" width="4.50" height="4.50" fill="#F29432"/><rect x="146.74" y="82.87" width="4.50" height="4.50" fill="#F29432"/><rect x="148.43" y="85.75" width="4.50" height="4.50" fill="#F29432"/><rect x="150.13" y="88.30" width="4.50" height="4.50" fill="#F29432"/><rect x="151.83" y="90.66" width="4.50" height="4.50" fill="#F29432"/><rect x="153.53" y="93.00" width="4.50" height="4.50" fill="#F29432"/><rect x="155.22" y="95.46" width="4.50" height="4.50" fill="#F29432"/><rect x="156.92" y="98.11" width="4.50" height="4.50" fill="#F29432"/><rect x="158.62" y="100.87" width="4.50" height="4.50" fill="#F29432"/><rect x="160.31" y="103.62" width="4.50" height="4.50" fill="#F29432"/><rect x="162.01" y="106.25" width="4.50" height="4.50" fill="#F29432"/><rect x="163.71" y="108.71" width="4.50" height="4.50" fill="#F29432"/><rect x="165.40" y="111.07" width="4.50" height="4.50" fill="#F29432"/><rect x="167.10" y="113.37" width="4.50" height="4.50" fill="#F29432"/><rect x="168.80" y="115.63" width="4.50" height="4.50" fill="#F29432"/><rect x="170.49" y="117.86" width="4.50" height="4.50" fill="#F29432"/><rect x="172.19" y="120.09" width="4.50" height="4.50" fill="#F29432"/><rect x="173.89" y="122.33" width="4.50" height="4.50" fill="#F29432"/><rect x="175.58" y="124.56" width="4.50" height="4.50" fill="#F29432"/><rect x="177.28" y="126.77" width="4.50" height="4.50" fill="#F29432"/><rect x="178.98" y="128.96" width="4.50" height="4.50" fill="#F29432"/><rect x="180.68" y="131.16" width="4.50" height="4.50" fill="#F29432"/><rect x="182.37" y="133.36" width="4.50" height="4.50" fill="#F29432"/><rect x="184.07" y="135.58" width="4.50" height="4.50" fill="#F29432"/><rect x="185.77" y="137.82" width="4.50" height="4.50" fill="#F29432"/><rect x="187.46" y="140.07" width="4.50" height="4.50" fill="#F29432"/><rect x="189.16" y="142.33" width="4.50" height="4.50" fill="#F29432"/><rect x="190.86" y="144.59" width="4.50" height="4.50" fill="#F29432"/><rect x="192.55" y="146.87" width="4.50" height="4.50" fill="#F29432"/><rect x="194.25" y="149.15" width="4.50" height="4.50" fill="#F29432"/></g>
<line x1="234.4" y1="230.8" x2="262.4" y2="230.8" stroke="#7030A0" stroke-width="1.05" stroke-dasharray="2.2 1.1"/>
<path d="M248.30 228.96L250.14 230.80L248.30 232.64L246.46 230.80Z" fill="#7030A0"/>
<text class="t" transform="translate(265.60,234.40) scale(1,1.08)" font-size="10.4" xml:space="preserve">SC</text>
<line x1="234.4" y1="244.9" x2="262.4" y2="244.9" stroke="#00B050" stroke-width="1.05" stroke-dasharray="2.2 1.1"/>
<rect x="246.20" y="242.80" width="4.20" height="4.20" fill="#00B050"/>
<text class="t" transform="translate(265.60,248.50) scale(1,1.08)" font-size="10.4" xml:space="preserve">RBCA-15</text>
<line x1="234.4" y1="259.6" x2="262.4" y2="259.6" stroke="#EB0070" stroke-width="1.05" stroke-dasharray="2.2 1.1"/>
<path d="M248.30 257.19L250.61 261.39L245.99 261.39Z" fill="#EB0070"/>
<text class="t" transform="translate(265.60,263.20) scale(1,1.08)" font-size="10.4" xml:space="preserve">RBCA-30</text>
<line x1="234.4" y1="273.2" x2="262.4" y2="273.2" stroke="#F29432" stroke-width="1.05" stroke-dasharray="2.2 1.1"/>
<rect x="246.20" y="271.10" width="4.20" height="4.20" fill="#F29432"/>
<text class="t" transform="translate(265.60,276.80) scale(1,1.08)" font-size="10.4" xml:space="preserve">RBCA-50</text>
<line x1="381" y1="3.5" x2="678.0" y2="3.5" stroke="#1a1a1a" stroke-width="1"/>
<line x1="677.5" y1="3.5" x2="677.5" y2="292.5" stroke="#1a1a1a" stroke-width="1"/>
<line x1="381" y1="3.0" x2="381" y2="290" stroke="#111" stroke-width="2"/>
<line x1="380" y1="289" x2="677.5" y2="289" stroke="#111" stroke-width="2"/>
<line x1="377.5" y1="288.5" x2="384.5" y2="288.5" stroke="#111" stroke-width="1"/>
<text class="t" transform="translate(371.90,293.20) scale(1,1.07)" font-size="10.5" text-anchor="end" xml:space="preserve">0.0</text>
<line x1="377.5" y1="241.5" x2="384.5" y2="241.5" stroke="#111" stroke-width="1"/>
<text class="t" transform="translate(371.90,245.58) scale(1,1.07)" font-size="10.5" text-anchor="end" xml:space="preserve">0.2</text>
<line x1="377.5" y1="193.5" x2="384.5" y2="193.5" stroke="#111" stroke-width="1"/>
<text class="t" transform="translate(371.90,197.97) scale(1,1.07)" font-size="10.5" text-anchor="end" xml:space="preserve">0.4</text>
<line x1="377.5" y1="146.5" x2="384.5" y2="146.5" stroke="#111" stroke-width="1"/>
<text class="t" transform="translate(371.90,150.35) scale(1,1.07)" font-size="10.5" text-anchor="end" xml:space="preserve">0.6</text>
<line x1="377.5" y1="98.5" x2="384.5" y2="98.5" stroke="#111" stroke-width="1"/>
<text class="t" transform="translate(371.90,102.73) scale(1,1.07)" font-size="10.5" text-anchor="end" xml:space="preserve">0.8</text>
<line x1="377.5" y1="50.5" x2="384.5" y2="50.5" stroke="#111" stroke-width="1"/>
<text class="t" transform="translate(371.90,55.12) scale(1,1.07)" font-size="10.5" text-anchor="end" xml:space="preserve">1.0</text>
<line x1="377.5" y1="3.5" x2="381" y2="3.5" stroke="#111" stroke-width="1"/>
<text class="t" transform="translate(371.90,7.50) scale(1,1.07)" font-size="10.5" text-anchor="end" xml:space="preserve">1.2</text>
<line x1="381.5" y1="286" x2="381.5" y2="292.5" stroke="#111" stroke-width="1"/>
<text class="t" transform="translate(381.00,306.00) scale(1,1.07)" font-size="10.5" text-anchor="middle" xml:space="preserve">0</text>
<line x1="413.5" y1="286" x2="413.5" y2="292.5" stroke="#111" stroke-width="1"/>
<text class="t" transform="translate(413.93,306.00) scale(1,1.07)" font-size="10.5" text-anchor="middle" xml:space="preserve">50</text>
<line x1="446.5" y1="286" x2="446.5" y2="292.5" stroke="#111" stroke-width="1"/>
<text class="t" transform="translate(446.87,306.00) scale(1,1.07)" font-size="10.5" text-anchor="middle" xml:space="preserve">100</text>
<line x1="479.5" y1="286" x2="479.5" y2="292.5" stroke="#111" stroke-width="1"/>
<text class="t" transform="translate(479.80,306.00) scale(1,1.07)" font-size="10.5" text-anchor="middle" xml:space="preserve">150</text>
<line x1="512.5" y1="286" x2="512.5" y2="292.5" stroke="#111" stroke-width="1"/>
<text class="t" transform="translate(512.73,306.00) scale(1,1.07)" font-size="10.5" text-anchor="middle" xml:space="preserve">200</text>
<line x1="545.5" y1="286" x2="545.5" y2="292.5" stroke="#111" stroke-width="1"/>
<text class="t" transform="translate(545.67,306.00) scale(1,1.07)" font-size="10.5" text-anchor="middle" xml:space="preserve">250</text>
<line x1="578.5" y1="286" x2="578.5" y2="292.5" stroke="#111" stroke-width="1"/>
<text class="t" transform="translate(578.60,306.00) scale(1,1.07)" font-size="10.5" text-anchor="middle" xml:space="preserve">300</text>
<line x1="611.5" y1="286" x2="611.5" y2="292.5" stroke="#111" stroke-width="1"/>
<text class="t" transform="translate(611.53,306.00) scale(1,1.07)" font-size="10.5" text-anchor="middle" xml:space="preserve">350</text>
<line x1="644.5" y1="286" x2="644.5" y2="292.5" stroke="#111" stroke-width="1"/>
<text class="t" transform="translate(644.47,306.00) scale(1,1.07)" font-size="10.5" text-anchor="middle" xml:space="preserve">400</text>
<text class="t" transform="translate(677.40,306.00) scale(1,1.07)" font-size="10.5" text-anchor="middle" xml:space="preserve">450</text>
<text class="b" transform="translate(348.50,147.00) rotate(-90) scale(1,1.06)" font-size="10.6" text-anchor="middle" font-weight="bold" xml:space="preserve">Normalized  Stress</text>
<text class="b" transform="translate(504.50,326.10) scale(1,1.03)" font-size="10.2" font-weight="bold" xml:space="preserve">Time</text>
<text class="b" transform="translate(531.50,326.10) scale(1,1.03)" font-size="11.2" font-weight="bold" xml:space="preserve">(s)</text>
<path d="M381.00 288.80 L383.60 288.62 L386.20 288.39 L388.80 288.13 L391.40 287.84 L394.00 287.52 L396.60 287.14 L399.20 286.67 L401.80 286.01 L404.40 285.05 L407.00 283.90 L409.60 282.68 L412.20 281.44 L414.80 280.09 L417.40 278.66 L420.00 277.20 L422.60 275.74 L425.20 274.24 L427.80 272.68 L430.40 271.04 L433.00 269.28 L435.60 267.43 L438.20 265.53 L440.80 263.61 L443.40 261.64 L446.00 259.62 L448.60 257.59 L451.20 255.56 L453.80 253.53 L456.40 251.48 L459.00 249.41 L461.60 247.30 L464.20 245.17 L466.80 243.01 L469.40 240.81 L472.00 238.58 L474.60 236.32 L477.20 234.03 L479.80 231.68 L482.40 229.30 L485.00 226.87 L487.60 224.38 L490.20 221.80 L492.80 219.10 L495.40 216.30 L498.00 213.44 L500.60 210.57 L503.20 207.70 L505.80 204.81 L508.40 201.89 L511.00 198.97 L513.60 196.03 L516.20 193.10 L518.80 190.18 L521.40 187.27 L524.00 184.35 L526.60 181.38 L529.20 178.35 L531.80 175.27 L534.40 172.15 L537.00 168.97 L539.60 165.74 L542.20 162.44 L544.80 159.06 L547.40 155.60 L550.00 152.07 L552.60 148.46 L555.20 144.77 L557.80 141.00 L560.40 137.08 L563.00 133.02 L565.60 128.89 L568.20 124.78 L570.80 120.78 L573.40 116.89 L576.00 113.03 L578.60 109.14 L581.20 105.14 L583.80 101.06 L586.40 96.92 L589.00 92.76 L591.60 88.60 L594.20 84.37 L596.80 80.02 L599.40 75.86 L602.00 72.17 L604.60 69.07 L607.20 65.96 L609.80 62.14 L612.40 58.90 L615.80 57.30 L618.40 54.20 L620.90 52.20 L632.00 50.10 L634.00 53.00 L635.70 55.90 L637.00 58.90 L637.60 63.20 L639.60 68.30 L641.30 72.50 L643.80 77.60 L645.50 84.40 L648.00 97.90" fill="none" stroke="#7030A0" stroke-width="0.8" stroke-dasharray="2 1.2"/>
<g><path d="M381.00 286.16L383.64 288.80L381.00 291.44L378.36 288.80Z" fill="#7030A0"/><path d="M383.60 285.97L386.25 288.62L383.60 291.26L380.96 288.62Z" fill="#7030A0"/><path d="M386.20 285.75L388.84 288.39L386.20 291.04L383.56 288.39Z" fill="#7030A0"/><path d="M388.80 285.49L391.44 288.13L388.80 290.78L386.16 288.13Z" fill="#7030A0"/><path d="M391.40 285.20L394.04 287.84L391.40 290.49L388.75 287.84Z" fill="#7030A0"/><path d="M394.00 284.88L396.64 287.52L394.00 290.17L391.36 287.52Z" fill="#7030A0"/><path d="M396.60 284.50L399.25 287.14L396.60 289.79L393.96 287.14Z" fill="#7030A0"/><path d="M399.20 284.02L401.84 286.67L399.20 289.31L396.56 286.67Z" fill="#7030A0"/><path d="M401.80 283.37L404.44 286.01L401.80 288.66L399.16 286.01Z" fill="#7030A0"/><path d="M404.40 282.41L407.04 285.05L404.40 287.70L401.75 285.05Z" fill="#7030A0"/><path d="M407.00 281.25L409.64 283.90L407.00 286.54L404.36 283.90Z" fill="#7030A0"/><path d="M409.60 280.04L412.25 282.68L409.60 285.33L406.96 282.68Z" fill="#7030A0"/><path d="M412.20 278.80L414.84 281.44L412.20 284.09L409.56 281.44Z" fill="#7030A0"/><path d="M414.80 277.44L417.44 280.09L414.80 282.73L412.16 280.09Z" fill="#7030A0"/><path d="M417.40 276.01L420.04 278.66L417.40 281.30L414.75 278.66Z" fill="#7030A0"/><path d="M420.00 274.56L422.64 277.20L420.00 279.84L417.36 277.20Z" fill="#7030A0"/><path d="M422.60 273.09L425.25 275.74L422.60 278.38L419.96 275.74Z" fill="#7030A0"/><path d="M425.20 271.60L427.84 274.24L425.20 276.89L422.56 274.24Z" fill="#7030A0"/><path d="M427.80 270.04L430.44 272.68L427.80 275.33L425.16 272.68Z" fill="#7030A0"/><path d="M430.40 268.40L433.04 271.04L430.40 273.69L427.75 271.04Z" fill="#7030A0"/><path d="M433.00 266.64L435.64 269.28L433.00 271.93L430.36 269.28Z" fill="#7030A0"/><path d="M435.60 264.79L438.25 267.43L435.60 270.08L432.96 267.43Z" fill="#7030A0"/><path d="M438.20 262.89L440.84 265.53L438.20 268.18L435.56 265.53Z" fill="#7030A0"/><path d="M440.80 260.96L443.44 263.61L440.80 266.25L438.16 263.61Z" fill="#7030A0"/><path d="M443.40 258.99L446.04 261.64L443.40 264.28L440.75 261.64Z" fill="#7030A0"/><path d="M446.00 256.98L448.64 259.62L446.00 262.27L443.36 259.62Z" fill="#7030A0"/><path d="M448.60 254.95L451.25 257.59L448.60 260.24L445.96 257.59Z" fill="#7030A0"/><path d="M451.20 252.92L453.84 255.56L451.20 258.21L448.56 255.56Z" fill="#7030A0"/><path d="M453.80 250.89L456.44 253.53L453.80 256.18L451.15 253.53Z" fill="#7030A0"/><path d="M456.40 248.84L459.04 251.48L456.40 254.13L453.75 251.48Z" fill="#7030A0"/><path d="M459.00 246.76L461.64 249.41L459.00 252.05L456.36 249.41Z" fill="#7030A0"/><path d="M461.60 244.66L464.25 247.30L461.60 249.95L458.96 247.30Z" fill="#7030A0"/><path d="M464.20 242.52L466.84 245.17L464.20 247.81L461.56 245.17Z" fill="#7030A0"/><path d="M466.80 240.36L469.44 243.01L466.80 245.65L464.15 243.01Z" fill="#7030A0"/><path d="M469.40 238.17L472.04 240.81L469.40 243.46L466.75 240.81Z" fill="#7030A0"/><path d="M472.00 235.94L474.64 238.58L472.00 241.23L469.36 238.58Z" fill="#7030A0"/><path d="M474.60 233.68L477.25 236.32L474.60 238.97L471.96 236.32Z" fill="#7030A0"/><path d="M477.20 231.38L479.84 234.03L477.20 236.67L474.56 234.03Z" fill="#7030A0"/><path d="M479.80 229.04L482.44 231.68L479.80 234.33L477.15 231.68Z" fill="#7030A0"/><path d="M482.40 226.65L485.04 229.30L482.40 231.94L479.75 229.30Z" fill="#7030A0"/><path d="M485.00 224.22L487.64 226.87L485.00 229.51L482.36 226.87Z" fill="#7030A0"/><path d="M487.60 221.73L490.24 224.38L487.60 227.02L484.95 224.38Z" fill="#7030A0"/><path d="M490.20 219.15L492.84 221.80L490.20 224.44L487.56 221.80Z" fill="#7030A0"/><path d="M492.80 216.45L495.44 219.10L492.80 221.74L490.15 219.10Z" fill="#7030A0"/><path d="M495.40 213.65L498.04 216.30L495.40 218.94L492.75 216.30Z" fill="#7030A0"/><path d="M498.00 210.80L500.64 213.44L498.00 216.09L495.36 213.44Z" fill="#7030A0"/><path d="M500.60 207.93L503.24 210.57L500.60 213.22L497.95 210.57Z" fill="#7030A0"/><path d="M503.20 205.06L505.84 207.70L503.20 210.35L500.56 207.70Z" fill="#7030A0"/><path d="M505.80 202.16L508.44 204.81L505.80 207.45L503.15 204.81Z" fill="#7030A0"/><path d="M508.40 199.25L511.04 201.89L508.40 204.54L505.75 201.89Z" fill="#7030A0"/><path d="M511.00 196.32L513.64 198.97L511.00 201.61L508.36 198.97Z" fill="#7030A0"/><path d="M513.60 193.39L516.25 196.03L513.60 198.68L510.96 196.03Z" fill="#7030A0"/><path d="M516.20 190.45L518.85 193.10L516.20 195.74L513.56 193.10Z" fill="#7030A0"/><path d="M518.80 187.54L521.44 190.18L518.80 192.83L516.15 190.18Z" fill="#7030A0"/><path d="M521.40 184.63L524.04 187.27L521.40 189.92L518.75 187.27Z" fill="#7030A0"/><path d="M524.00 181.70L526.64 184.35L524.00 186.99L521.36 184.35Z" fill="#7030A0"/><path d="M526.60 178.73L529.24 181.38L526.60 184.02L523.95 181.38Z" fill="#7030A0"/><path d="M529.20 175.71L531.85 178.35L529.20 181.00L526.56 178.35Z" fill="#7030A0"/><path d="M531.80 172.62L534.44 175.27L531.80 177.91L529.15 175.27Z" fill="#7030A0"/><path d="M534.40 169.50L537.04 172.15L534.40 174.79L531.75 172.15Z" fill="#7030A0"/><path d="M537.00 166.33L539.64 168.97L537.00 171.62L534.36 168.97Z" fill="#7030A0"/><path d="M539.60 163.10L542.24 165.74L539.60 168.39L536.95 165.74Z" fill="#7030A0"/><path d="M542.20 159.80L544.85 162.44L542.20 165.09L539.56 162.44Z" fill="#7030A0"/><path d="M544.80 156.41L547.44 159.06L544.80 161.70L542.15 159.06Z" fill="#7030A0"/><path d="M547.40 152.96L550.04 155.60L547.40 158.25L544.75 155.60Z" fill="#7030A0"/><path d="M550.00 149.43L552.64 152.07L550.00 154.72L547.36 152.07Z" fill="#7030A0"/><path d="M552.60 145.82L555.24 148.46L552.60 151.11L549.95 148.46Z" fill="#7030A0"/><path d="M555.20 142.13L557.85 144.77L555.20 147.42L552.56 144.77Z" fill="#7030A0"/><path d="M557.80 138.35L560.44 141.00L557.80 143.65L555.15 141.00Z" fill="#7030A0"/><path d="M560.40 134.44L563.04 137.08L560.40 139.73L557.75 137.08Z" fill="#7030A0"/><path d="M563.00 130.37L565.64 133.02L563.00 135.66L560.36 133.02Z" fill="#7030A0"/><path d="M565.60 126.24L568.24 128.89L565.60 131.53L562.95 128.89Z" fill="#7030A0"/><path d="M568.20 122.14L570.85 124.78L568.20 127.43L565.56 124.78Z" fill="#7030A0"/><path d="M570.80 118.14L573.44 120.78L570.80 123.43L568.15 120.78Z" fill="#7030A0"/><path d="M573.40 114.25L576.04 116.89L573.40 119.54L570.75 116.89Z" fill="#7030A0"/><path d="M576.00 110.39L578.64 113.03L576.00 115.68L573.36 113.03Z" fill="#7030A0"/><path d="M578.60 106.49L581.24 109.14L578.60 111.78L575.95 109.14Z" fill="#7030A0"/><path d="M581.20 102.50L583.84 105.14L581.20 107.79L578.55 105.14Z" fill="#7030A0"/><path d="M583.80 98.41L586.44 101.06L583.80 103.70L581.15 101.06Z" fill="#7030A0"/><path d="M586.40 94.27L589.04 96.92L586.40 99.56L583.75 96.92Z" fill="#7030A0"/><path d="M589.00 90.11L591.64 92.76L589.00 95.40L586.36 92.76Z" fill="#7030A0"/><path d="M591.60 85.95L594.24 88.60L591.60 91.24L588.95 88.60Z" fill="#7030A0"/><path d="M594.20 81.72L596.84 84.37L594.20 87.01L591.55 84.37Z" fill="#7030A0"/><path d="M596.80 77.38L599.44 80.02L596.80 82.67L594.15 80.02Z" fill="#7030A0"/><path d="M599.40 73.22L602.04 75.86L599.40 78.51L596.75 75.86Z" fill="#7030A0"/><path d="M602.00 69.53L604.64 72.17L602.00 74.82L599.36 72.17Z" fill="#7030A0"/><path d="M604.60 66.43L607.24 69.07L604.60 71.72L601.95 69.07Z" fill="#7030A0"/><path d="M607.20 63.32L609.84 65.96L607.20 68.61L604.55 65.96Z" fill="#7030A0"/><path d="M609.80 59.49L612.44 62.14L609.80 64.78L607.15 62.14Z" fill="#7030A0"/><path d="M612.40 56.25L615.04 58.90L612.40 61.54L609.75 58.90Z" fill="#7030A0"/><path d="M615.80 54.66L618.44 57.30L615.80 59.94L613.15 57.30Z" fill="#7030A0"/><path d="M618.40 51.56L621.04 54.20L618.40 56.84L615.75 54.20Z" fill="#7030A0"/><path d="M620.90 49.56L623.54 52.20L620.90 54.84L618.25 52.20Z" fill="#7030A0"/><path d="M632.00 47.45L634.64 50.10L632.00 52.75L629.36 50.10Z" fill="#7030A0"/><path d="M634.00 50.36L636.64 53.00L634.00 55.64L631.36 53.00Z" fill="#7030A0"/><path d="M635.70 53.25L638.35 55.90L635.70 58.55L633.06 55.90Z" fill="#7030A0"/><path d="M637.00 56.25L639.64 58.90L637.00 61.55L634.36 58.90Z" fill="#7030A0"/><path d="M637.60 60.56L640.25 63.20L637.60 65.84L634.96 63.20Z" fill="#7030A0"/><path d="M639.60 65.66L642.25 68.30L639.60 70.94L636.96 68.30Z" fill="#7030A0"/><path d="M641.30 69.86L643.94 72.50L641.30 75.14L638.65 72.50Z" fill="#7030A0"/><path d="M643.80 74.95L646.44 77.60L643.80 80.24L641.15 77.60Z" fill="#7030A0"/><path d="M645.50 81.76L648.14 84.40L645.50 87.05L642.86 84.40Z" fill="#7030A0"/><path d="M648.00 95.26L650.64 97.90L648.00 100.55L645.36 97.90Z" fill="#7030A0"/></g>
<path d="M381.00 288.80 L382.86 288.66 L384.71 288.45 L386.57 288.19 L388.43 287.88 L390.29 287.55 L392.14 287.15 L394.00 286.66 L395.86 286.10 L397.71 285.46 L399.57 284.77 L401.43 283.98 L403.29 283.01 L405.14 281.92 L407.00 280.75 L408.86 279.54 L410.71 278.33 L412.57 277.05 L414.43 275.70 L416.29 274.32 L418.14 272.94 L420.00 271.60 L421.86 270.32 L423.71 269.08 L425.57 267.84 L427.43 266.57 L429.29 265.24 L431.14 263.81 L433.00 262.30 L434.86 260.73 L436.71 259.11 L438.57 257.47 L440.43 255.82 L442.29 254.17 L444.14 252.50 L446.00 250.80 L447.86 249.06 L449.71 247.28 L451.57 245.43 L453.43 243.50 L455.29 241.53 L457.14 239.54 L459.00 237.56 L460.86 235.61 L462.71 233.70 L464.57 231.80 L466.43 229.88 L468.29 227.91 L470.14 225.84 L472.00 223.65 L473.86 221.36 L475.71 219.01 L477.57 216.62 L479.43 214.23 L481.29 211.85 L483.14 209.46 L485.00 207.05 L486.86 204.62 L488.71 202.19 L490.57 199.75 L492.43 197.31 L494.29 194.85 L496.14 192.39 L498.00 189.92 L499.86 187.45 L501.71 184.98 L503.57 182.52 L505.43 180.07 L507.29 177.63 L509.14 175.20 L511.00 172.80 L512.86 170.41 L514.71 168.02 L516.57 165.63 L518.43 163.23 L520.29 160.80 L522.14 158.35 L524.00 155.87 L525.86 153.35 L527.71 150.80 L529.57 148.24 L531.43 145.65 L533.29 143.04 L535.14 140.42 L537.00 137.78 L538.86 135.14 L540.71 132.48 L542.57 129.83 L544.43 127.17 L546.29 124.51 L548.14 121.82 L550.00 119.11 L551.86 116.35 L553.71 113.53 L555.57 110.66 L557.43 107.73 L559.29 104.77 L561.14 101.74 L563.00 98.63 L564.86 95.42 L566.71 92.08 L568.57 88.56 L570.43 84.77 L572.29 80.83 L574.14 76.86 L576.00 73.00 L577.86 69.08 L579.71 65.16 L581.57 61.69 L583.43 58.76 L585.29 56.07 L587.14 54.21 L589.00 53.27 L590.86 52.63 L592.71 52.59 L594.57 53.47 L596.43 54.89 L598.29 57.64 L600.14 61.29 L602.00 65.92 L603.86 70.93 L605.71 75.87 L607.57 80.37 L609.43 84.34 L611.29 88.58 L613.14 93.12 L615.00 97.90" fill="none" stroke="#00B050" stroke-width="0.8" stroke-dasharray="2 1.2"/>
<g><rect x="378.70" y="286.50" width="4.60" height="4.60" fill="#00B050"/><rect x="380.56" y="286.36" width="4.60" height="4.60" fill="#00B050"/><rect x="382.41" y="286.15" width="4.60" height="4.60" fill="#00B050"/><rect x="384.27" y="285.89" width="4.60" height="4.60" fill="#00B050"/><rect x="386.13" y="285.58" width="4.60" height="4.60" fill="#00B050"/><rect x="387.99" y="285.25" width="4.60" height="4.60" fill="#00B050"/><rect x="389.84" y="284.85" width="4.60" height="4.60" fill="#00B050"/><rect x="391.70" y="284.36" width="4.60" height="4.60" fill="#00B050"/><rect x="393.56" y="283.80" width="4.60" height="4.60" fill="#00B050"/><rect x="395.41" y="283.16" width="4.60" height="4.60" fill="#00B050"/><rect x="397.27" y="282.47" width="4.60" height="4.60" fill="#00B050"/><rect x="399.13" y="281.68" width="4.60" height="4.60" fill="#00B050"/><rect x="400.99" y="280.71" width="4.60" height="4.60" fill="#00B050"/><rect x="402.84" y="279.62" width="4.60" height="4.60" fill="#00B050"/><rect x="404.70" y="278.45" width="4.60" height="4.60" fill="#00B050"/><rect x="406.56" y="277.24" width="4.60" height="4.60" fill="#00B050"/><rect x="408.41" y="276.03" width="4.60" height="4.60" fill="#00B050"/><rect x="410.27" y="274.75" width="4.60" height="4.60" fill="#00B050"/><rect x="412.13" y="273.40" width="4.60" height="4.60" fill="#00B050"/><rect x="413.99" y="272.02" width="4.60" height="4.60" fill="#00B050"/><rect x="415.84" y="270.64" width="4.60" height="4.60" fill="#00B050"/><rect x="417.70" y="269.30" width="4.60" height="4.60" fill="#00B050"/><rect x="419.56" y="268.02" width="4.60" height="4.60" fill="#00B050"/><rect x="421.41" y="266.78" width="4.60" height="4.60" fill="#00B050"/><rect x="423.27" y="265.54" width="4.60" height="4.60" fill="#00B050"/><rect x="425.13" y="264.27" width="4.60" height="4.60" fill="#00B050"/><rect x="426.99" y="262.94" width="4.60" height="4.60" fill="#00B050"/><rect x="428.84" y="261.51" width="4.60" height="4.60" fill="#00B050"/><rect x="430.70" y="260.00" width="4.60" height="4.60" fill="#00B050"/><rect x="432.56" y="258.43" width="4.60" height="4.60" fill="#00B050"/><rect x="434.41" y="256.81" width="4.60" height="4.60" fill="#00B050"/><rect x="436.27" y="255.17" width="4.60" height="4.60" fill="#00B050"/><rect x="438.13" y="253.52" width="4.60" height="4.60" fill="#00B050"/><rect x="439.99" y="251.87" width="4.60" height="4.60" fill="#00B050"/><rect x="441.84" y="250.20" width="4.60" height="4.60" fill="#00B050"/><rect x="443.70" y="248.50" width="4.60" height="4.60" fill="#00B050"/><rect x="445.56" y="246.76" width="4.60" height="4.60" fill="#00B050"/><rect x="447.41" y="244.98" width="4.60" height="4.60" fill="#00B050"/><rect x="449.27" y="243.13" width="4.60" height="4.60" fill="#00B050"/><rect x="451.13" y="241.20" width="4.60" height="4.60" fill="#00B050"/><rect x="452.99" y="239.23" width="4.60" height="4.60" fill="#00B050"/><rect x="454.84" y="237.24" width="4.60" height="4.60" fill="#00B050"/><rect x="456.70" y="235.26" width="4.60" height="4.60" fill="#00B050"/><rect x="458.56" y="233.31" width="4.60" height="4.60" fill="#00B050"/><rect x="460.41" y="231.40" width="4.60" height="4.60" fill="#00B050"/><rect x="462.27" y="229.50" width="4.60" height="4.60" fill="#00B050"/><rect x="464.13" y="227.58" width="4.60" height="4.60" fill="#00B050"/><rect x="465.99" y="225.61" width="4.60" height="4.60" fill="#00B050"/><rect x="467.84" y="223.54" width="4.60" height="4.60" fill="#00B050"/><rect x="469.70" y="221.35" width="4.60" height="4.60" fill="#00B050"/><rect x="471.56" y="219.06" width="4.60" height="4.60" fill="#00B050"/><rect x="473.41" y="216.71" width="4.60" height="4.60" fill="#00B050"/><rect x="475.27" y="214.32" width="4.60" height="4.60" fill="#00B050"/><rect x="477.13" y="211.93" width="4.60" height="4.60" fill="#00B050"/><rect x="478.99" y="209.55" width="4.60" height="4.60" fill="#00B050"/><rect x="480.84" y="207.16" width="4.60" height="4.60" fill="#00B050"/><rect x="482.70" y="204.75" width="4.60" height="4.60" fill="#00B050"/><rect x="484.56" y="202.32" width="4.60" height="4.60" fill="#00B050"/><rect x="486.41" y="199.89" width="4.60" height="4.60" fill="#00B050"/><rect x="488.27" y="197.45" width="4.60" height="4.60" fill="#00B050"/><rect x="490.13" y="195.01" width="4.60" height="4.60" fill="#00B050"/><rect x="491.99" y="192.55" width="4.60" height="4.60" fill="#00B050"/><rect x="493.84" y="190.09" width="4.60" height="4.60" fill="#00B050"/><rect x="495.70" y="187.62" width="4.60" height="4.60" fill="#00B050"/><rect x="497.56" y="185.15" width="4.60" height="4.60" fill="#00B050"/><rect x="499.41" y="182.68" width="4.60" height="4.60" fill="#00B050"/><rect x="501.27" y="180.22" width="4.60" height="4.60" fill="#00B050"/><rect x="503.13" y="177.77" width="4.60" height="4.60" fill="#00B050"/><rect x="504.99" y="175.33" width="4.60" height="4.60" fill="#00B050"/><rect x="506.84" y="172.90" width="4.60" height="4.60" fill="#00B050"/><rect x="508.70" y="170.50" width="4.60" height="4.60" fill="#00B050"/><rect x="510.56" y="168.11" width="4.60" height="4.60" fill="#00B050"/><rect x="512.41" y="165.72" width="4.60" height="4.60" fill="#00B050"/><rect x="514.27" y="163.33" width="4.60" height="4.60" fill="#00B050"/><rect x="516.13" y="160.93" width="4.60" height="4.60" fill="#00B050"/><rect x="517.99" y="158.50" width="4.60" height="4.60" fill="#00B050"/><rect x="519.84" y="156.05" width="4.60" height="4.60" fill="#00B050"/><rect x="521.70" y="153.57" width="4.60" height="4.60" fill="#00B050"/><rect x="523.56" y="151.05" width="4.60" height="4.60" fill="#00B050"/><rect x="525.41" y="148.50" width="4.60" height="4.60" fill="#00B050"/><rect x="527.27" y="145.94" width="4.60" height="4.60" fill="#00B050"/><rect x="529.13" y="143.35" width="4.60" height="4.60" fill="#00B050"/><rect x="530.99" y="140.74" width="4.60" height="4.60" fill="#00B050"/><rect x="532.84" y="138.12" width="4.60" height="4.60" fill="#00B050"/><rect x="534.70" y="135.48" width="4.60" height="4.60" fill="#00B050"/><rect x="536.56" y="132.84" width="4.60" height="4.60" fill="#00B050"/><rect x="538.41" y="130.18" width="4.60" height="4.60" fill="#00B050"/><rect x="540.27" y="127.53" width="4.60" height="4.60" fill="#00B050"/><rect x="542.13" y="124.87" width="4.60" height="4.60" fill="#00B050"/><rect x="543.99" y="122.21" width="4.60" height="4.60" fill="#00B050"/><rect x="545.84" y="119.52" width="4.60" height="4.60" fill="#00B050"/><rect x="547.70" y="116.81" width="4.60" height="4.60" fill="#00B050"/><rect x="549.56" y="114.05" width="4.60" height="4.60" fill="#00B050"/><rect x="551.41" y="111.23" width="4.60" height="4.60" fill="#00B050"/><rect x="553.27" y="108.36" width="4.60" height="4.60" fill="#00B050"/><rect x="555.13" y="105.43" width="4.60" height="4.60" fill="#00B050"/><rect x="556.99" y="102.47" width="4.60" height="4.60" fill="#00B050"/><rect x="558.84" y="99.44" width="4.60" height="4.60" fill="#00B050"/><rect x="560.70" y="96.33" width="4.60" height="4.60" fill="#00B050"/><rect x="562.56" y="93.12" width="4.60" height="4.60" fill="#00B050"/><rect x="564.41" y="89.78" width="4.60" height="4.60" fill="#00B050"/><rect x="566.27" y="86.26" width="4.60" height="4.60" fill="#00B050"/><rect x="568.13" y="82.47" width="4.60" height="4.60" fill="#00B050"/><rect x="569.99" y="78.53" width="4.60" height="4.60" fill="#00B050"/><rect x="571.84" y="74.56" width="4.60" height="4.60" fill="#00B050"/><rect x="573.70" y="70.70" width="4.60" height="4.60" fill="#00B050"/><rect x="575.56" y="66.78" width="4.60" height="4.60" fill="#00B050"/><rect x="577.41" y="62.86" width="4.60" height="4.60" fill="#00B050"/><rect x="579.27" y="59.39" width="4.60" height="4.60" fill="#00B050"/><rect x="581.13" y="56.46" width="4.60" height="4.60" fill="#00B050"/><rect x="582.99" y="53.77" width="4.60" height="4.60" fill="#00B050"/><rect x="584.84" y="51.91" width="4.60" height="4.60" fill="#00B050"/><rect x="586.70" y="50.97" width="4.60" height="4.60" fill="#00B050"/><rect x="588.56" y="50.33" width="4.60" height="4.60" fill="#00B050"/><rect x="590.41" y="50.29" width="4.60" height="4.60" fill="#00B050"/><rect x="592.27" y="51.17" width="4.60" height="4.60" fill="#00B050"/><rect x="594.13" y="52.59" width="4.60" height="4.60" fill="#00B050"/><rect x="595.99" y="55.34" width="4.60" height="4.60" fill="#00B050"/><rect x="597.84" y="58.99" width="4.60" height="4.60" fill="#00B050"/><rect x="599.70" y="63.62" width="4.60" height="4.60" fill="#00B050"/><rect x="601.56" y="68.63" width="4.60" height="4.60" fill="#00B050"/><rect x="603.41" y="73.57" width="4.60" height="4.60" fill="#00B050"/><rect x="605.27" y="78.07" width="4.60" height="4.60" fill="#00B050"/><rect x="607.13" y="82.04" width="4.60" height="4.60" fill="#00B050"/><rect x="608.99" y="86.28" width="4.60" height="4.60" fill="#00B050"/><rect x="610.84" y="90.82" width="4.60" height="4.60" fill="#00B050"/><rect x="612.70" y="95.60" width="4.60" height="4.60" fill="#00B050"/></g>
<path d="M381.00 288.80 L382.84 288.63 L384.69 288.37 L386.53 288.04 L388.37 287.67 L390.21 287.25 L392.06 286.75 L393.90 286.13 L395.74 285.41 L397.59 284.62 L399.43 283.77 L401.27 282.84 L403.11 281.76 L404.96 280.54 L406.80 279.26 L408.64 277.95 L410.49 276.66 L412.33 275.35 L414.17 274.01 L416.01 272.64 L417.86 271.24 L419.70 269.83 L421.54 268.41 L423.39 266.99 L425.23 265.54 L427.07 264.06 L428.91 262.53 L430.76 260.94 L432.60 259.27 L434.44 257.54 L436.29 255.78 L438.13 254.00 L439.97 252.23 L441.81 250.46 L443.66 248.69 L445.50 246.90 L447.34 245.11 L449.19 243.30 L451.03 241.49 L452.87 239.68 L454.71 237.86 L456.56 236.03 L458.40 234.16 L460.24 232.25 L462.09 230.31 L463.93 228.34 L465.77 226.33 L467.61 224.27 L469.46 222.14 L471.30 219.92 L473.14 217.61 L474.99 215.21 L476.83 212.77 L478.67 210.29 L480.51 207.80 L482.36 205.27 L484.20 202.68 L486.04 200.07 L487.89 197.46 L489.73 194.88 L491.57 192.33 L493.41 189.81 L495.26 187.29 L497.10 184.78 L498.94 182.28 L500.79 179.76 L502.63 177.23 L504.47 174.68 L506.31 172.12 L508.16 169.53 L510.00 166.94 L511.84 164.34 L513.69 161.74 L515.53 159.15 L517.37 156.56 L519.21 153.98 L521.06 151.40 L522.90 148.81 L524.74 146.24 L526.59 143.68 L528.43 141.14 L530.27 138.63 L532.11 136.17 L533.96 133.74 L535.80 131.33 L537.64 128.92 L539.49 126.49 L541.33 124.03 L543.17 121.58 L545.01 119.14 L546.86 116.68 L548.70 114.19 L550.54 111.67 L552.39 109.10 L554.23 106.46 L556.07 103.75 L557.91 100.97 L559.76 98.16 L561.60 95.33 L563.44 92.52 L565.29 89.73 L567.13 86.93 L568.97 84.08 L570.81 81.13 L572.66 78.04 L574.50 74.76 L576.34 71.37 L578.19 67.87 L580.03 64.01 L581.87 60.41 L583.71 57.70 L585.56 55.38 L587.40 53.60 L589.24 52.63 L591.09 51.91 L592.93 51.35 L594.77 51.04 L596.61 51.53 L598.46 54.64 L600.30 58.38 L602.14 63.08 L603.99 68.18 L605.83 73.73 L607.67 79.68 L609.51 86.05 L611.36 92.40 L613.20 98.80" fill="none" stroke="#EB0064" stroke-width="0.8" stroke-dasharray="2 1.2"/>
<g><path d="M381.00 286.16L383.53 290.75L378.47 290.75Z" fill="#EB0064"/><path d="M382.84 285.98L385.37 290.58L380.31 290.58Z" fill="#EB0064"/><path d="M384.69 285.73L387.22 290.33L382.16 290.33Z" fill="#EB0064"/><path d="M386.53 285.40L389.06 290.00L384.00 290.00Z" fill="#EB0064"/><path d="M388.37 285.02L390.90 289.62L385.84 289.62Z" fill="#EB0064"/><path d="M390.21 284.60L392.74 289.20L387.68 289.20Z" fill="#EB0064"/><path d="M392.06 284.10L394.59 288.70L389.53 288.70Z" fill="#EB0064"/><path d="M393.90 283.48L396.43 288.08L391.37 288.08Z" fill="#EB0064"/><path d="M395.74 282.77L398.27 287.37L393.21 287.37Z" fill="#EB0064"/><path d="M397.59 281.98L400.12 286.58L395.06 286.58Z" fill="#EB0064"/><path d="M399.43 281.13L401.96 285.73L396.90 285.73Z" fill="#EB0064"/><path d="M401.27 280.20L403.80 284.80L398.74 284.80Z" fill="#EB0064"/><path d="M403.11 279.11L405.64 283.71L400.58 283.71Z" fill="#EB0064"/><path d="M404.96 277.90L407.49 282.50L402.43 282.50Z" fill="#EB0064"/><path d="M406.80 276.62L409.33 281.22L404.27 281.22Z" fill="#EB0064"/><path d="M408.64 275.31L411.17 279.91L406.11 279.91Z" fill="#EB0064"/><path d="M410.49 274.02L413.02 278.62L407.96 278.62Z" fill="#EB0064"/><path d="M412.33 272.71L414.86 277.31L409.80 277.31Z" fill="#EB0064"/><path d="M414.17 271.37L416.70 275.97L411.64 275.97Z" fill="#EB0064"/><path d="M416.01 269.99L418.54 274.59L413.48 274.59Z" fill="#EB0064"/><path d="M417.86 268.60L420.39 273.20L415.33 273.20Z" fill="#EB0064"/><path d="M419.70 267.19L422.23 271.79L417.17 271.79Z" fill="#EB0064"/><path d="M421.54 265.77L424.07 270.37L419.01 270.37Z" fill="#EB0064"/><path d="M423.39 264.34L425.92 268.94L420.86 268.94Z" fill="#EB0064"/><path d="M425.23 262.89L427.76 267.49L422.70 267.49Z" fill="#EB0064"/><path d="M427.07 261.41L429.60 266.01L424.54 266.01Z" fill="#EB0064"/><path d="M428.91 259.88L431.44 264.48L426.38 264.48Z" fill="#EB0064"/><path d="M430.76 258.29L433.29 262.89L428.23 262.89Z" fill="#EB0064"/><path d="M432.60 256.63L435.13 261.23L430.07 261.23Z" fill="#EB0064"/><path d="M434.44 254.90L436.97 259.50L431.91 259.50Z" fill="#EB0064"/><path d="M436.29 253.13L438.82 257.73L433.76 257.73Z" fill="#EB0064"/><path d="M438.13 251.35L440.66 255.95L435.60 255.95Z" fill="#EB0064"/><path d="M439.97 249.58L442.50 254.18L437.44 254.18Z" fill="#EB0064"/><path d="M441.81 247.82L444.34 252.42L439.28 252.42Z" fill="#EB0064"/><path d="M443.66 246.04L446.19 250.64L441.13 250.64Z" fill="#EB0064"/><path d="M445.50 244.26L448.03 248.86L442.97 248.86Z" fill="#EB0064"/><path d="M447.34 242.46L449.87 247.06L444.81 247.06Z" fill="#EB0064"/><path d="M449.19 240.66L451.72 245.26L446.66 245.26Z" fill="#EB0064"/><path d="M451.03 238.84L453.56 243.44L448.50 243.44Z" fill="#EB0064"/><path d="M452.87 237.03L455.40 241.63L450.34 241.63Z" fill="#EB0064"/><path d="M454.71 235.22L457.24 239.82L452.18 239.82Z" fill="#EB0064"/><path d="M456.56 233.38L459.09 237.98L454.03 237.98Z" fill="#EB0064"/><path d="M458.40 231.51L460.93 236.11L455.87 236.11Z" fill="#EB0064"/><path d="M460.24 229.60L462.77 234.20L457.71 234.20Z" fill="#EB0064"/><path d="M462.09 227.66L464.62 232.26L459.56 232.26Z" fill="#EB0064"/><path d="M463.93 225.70L466.46 230.30L461.40 230.30Z" fill="#EB0064"/><path d="M465.77 223.69L468.30 228.29L463.24 228.29Z" fill="#EB0064"/><path d="M467.61 221.63L470.14 226.23L465.08 226.23Z" fill="#EB0064"/><path d="M469.46 219.50L471.99 224.10L466.93 224.10Z" fill="#EB0064"/><path d="M471.30 217.28L473.83 221.88L468.77 221.88Z" fill="#EB0064"/><path d="M473.14 214.96L475.67 219.56L470.61 219.56Z" fill="#EB0064"/><path d="M474.99 212.57L477.52 217.17L472.46 217.17Z" fill="#EB0064"/><path d="M476.83 210.12L479.36 214.72L474.30 214.72Z" fill="#EB0064"/><path d="M478.67 207.65L481.20 212.25L476.14 212.25Z" fill="#EB0064"/><path d="M480.51 205.16L483.04 209.76L477.98 209.76Z" fill="#EB0064"/><path d="M482.36 202.62L484.89 207.22L479.83 207.22Z" fill="#EB0064"/><path d="M484.20 200.03L486.73 204.63L481.67 204.63Z" fill="#EB0064"/><path d="M486.04 197.42L488.57 202.02L483.51 202.02Z" fill="#EB0064"/><path d="M487.89 194.81L490.42 199.41L485.36 199.41Z" fill="#EB0064"/><path d="M489.73 192.23L492.26 196.83L487.20 196.83Z" fill="#EB0064"/><path d="M491.57 189.69L494.10 194.29L489.04 194.29Z" fill="#EB0064"/><path d="M493.41 187.16L495.94 191.76L490.88 191.76Z" fill="#EB0064"/><path d="M495.26 184.65L497.79 189.25L492.73 189.25Z" fill="#EB0064"/><path d="M497.10 182.14L499.63 186.74L494.57 186.74Z" fill="#EB0064"/><path d="M498.94 179.63L501.47 184.23L496.41 184.23Z" fill="#EB0064"/><path d="M500.79 177.12L503.32 181.72L498.26 181.72Z" fill="#EB0064"/><path d="M502.63 174.59L505.16 179.19L500.10 179.19Z" fill="#EB0064"/><path d="M504.47 172.04L507.00 176.64L501.94 176.64Z" fill="#EB0064"/><path d="M506.31 169.47L508.84 174.07L503.78 174.07Z" fill="#EB0064"/><path d="M508.16 166.89L510.69 171.49L505.63 171.49Z" fill="#EB0064"/><path d="M510.00 164.30L512.53 168.90L507.47 168.90Z" fill="#EB0064"/><path d="M511.84 161.70L514.37 166.30L509.31 166.30Z" fill="#EB0064"/><path d="M513.69 159.10L516.22 163.70L511.16 163.70Z" fill="#EB0064"/><path d="M515.53 156.50L518.06 161.10L513.00 161.10Z" fill="#EB0064"/><path d="M517.37 153.91L519.90 158.51L514.84 158.51Z" fill="#EB0064"/><path d="M519.21 151.34L521.74 155.94L516.68 155.94Z" fill="#EB0064"/><path d="M521.06 148.75L523.59 153.35L518.53 153.35Z" fill="#EB0064"/><path d="M522.90 146.17L525.43 150.77L520.37 150.77Z" fill="#EB0064"/><path d="M524.74 143.59L527.27 148.19L522.21 148.19Z" fill="#EB0064"/><path d="M526.59 141.03L529.12 145.63L524.06 145.63Z" fill="#EB0064"/><path d="M528.43 138.49L530.96 143.09L525.90 143.09Z" fill="#EB0064"/><path d="M530.27 135.99L532.80 140.59L527.74 140.59Z" fill="#EB0064"/><path d="M532.11 133.53L534.64 138.13L529.58 138.13Z" fill="#EB0064"/><path d="M533.96 131.10L536.49 135.70L531.43 135.70Z" fill="#EB0064"/><path d="M535.80 128.69L538.33 133.29L533.27 133.29Z" fill="#EB0064"/><path d="M537.64 126.27L540.17 130.87L535.11 130.87Z" fill="#EB0064"/><path d="M539.49 123.84L542.02 128.44L536.96 128.44Z" fill="#EB0064"/><path d="M541.33 121.39L543.86 125.99L538.80 125.99Z" fill="#EB0064"/><path d="M543.17 118.94L545.70 123.54L540.64 123.54Z" fill="#EB0064"/><path d="M545.01 116.49L547.54 121.09L542.48 121.09Z" fill="#EB0064"/><path d="M546.86 114.03L549.39 118.63L544.33 118.63Z" fill="#EB0064"/><path d="M548.70 111.55L551.23 116.15L546.17 116.15Z" fill="#EB0064"/><path d="M550.54 109.03L553.07 113.63L548.01 113.63Z" fill="#EB0064"/><path d="M552.39 106.45L554.92 111.05L549.86 111.05Z" fill="#EB0064"/><path d="M554.23 103.82L556.76 108.42L551.70 108.42Z" fill="#EB0064"/><path d="M556.07 101.10L558.60 105.70L553.54 105.70Z" fill="#EB0064"/><path d="M557.91 98.33L560.44 102.93L555.38 102.93Z" fill="#EB0064"/><path d="M559.76 95.51L562.29 100.11L557.23 100.11Z" fill="#EB0064"/><path d="M561.60 92.69L564.13 97.29L559.07 97.29Z" fill="#EB0064"/><path d="M563.44 89.87L565.97 94.47L560.91 94.47Z" fill="#EB0064"/><path d="M565.29 87.08L567.82 91.68L562.76 91.68Z" fill="#EB0064"/><path d="M567.13 84.29L569.66 88.89L564.60 88.89Z" fill="#EB0064"/><path d="M568.97 81.44L571.50 86.04L566.44 86.04Z" fill="#EB0064"/><path d="M570.81 78.49L573.34 83.09L568.28 83.09Z" fill="#EB0064"/><path d="M572.66 75.39L575.19 79.99L570.13 79.99Z" fill="#EB0064"/><path d="M574.50 72.12L577.03 76.72L571.97 76.72Z" fill="#EB0064"/><path d="M576.34 68.72L578.87 73.32L573.81 73.32Z" fill="#EB0064"/><path d="M578.19 65.22L580.72 69.82L575.66 69.82Z" fill="#EB0064"/><path d="M580.03 61.36L582.56 65.96L577.50 65.96Z" fill="#EB0064"/><path d="M581.87 57.76L584.40 62.36L579.34 62.36Z" fill="#EB0064"/><path d="M583.71 55.05L586.24 59.65L581.18 59.65Z" fill="#EB0064"/><path d="M585.56 52.73L588.09 57.33L583.03 57.33Z" fill="#EB0064"/><path d="M587.40 50.96L589.93 55.56L584.87 55.56Z" fill="#EB0064"/><path d="M589.24 49.99L591.77 54.59L586.71 54.59Z" fill="#EB0064"/><path d="M591.09 49.26L593.62 53.86L588.56 53.86Z" fill="#EB0064"/><path d="M592.93 48.71L595.46 53.31L590.40 53.31Z" fill="#EB0064"/><path d="M594.77 48.40L597.30 53.00L592.24 53.00Z" fill="#EB0064"/><path d="M596.61 48.88L599.14 53.48L594.08 53.48Z" fill="#EB0064"/><path d="M598.46 51.99L600.99 56.59L595.93 56.59Z" fill="#EB0064"/><path d="M600.30 55.73L602.83 60.33L597.77 60.33Z" fill="#EB0064"/><path d="M602.14 60.44L604.67 65.04L599.61 65.04Z" fill="#EB0064"/><path d="M603.99 65.54L606.52 70.14L601.46 70.14Z" fill="#EB0064"/><path d="M605.83 71.08L608.36 75.68L603.30 75.68Z" fill="#EB0064"/><path d="M607.67 77.04L610.20 81.64L605.14 81.64Z" fill="#EB0064"/><path d="M609.51 83.40L612.04 88.00L606.98 88.00Z" fill="#EB0064"/><path d="M611.36 89.75L613.89 94.35L608.83 94.35Z" fill="#EB0064"/><path d="M613.20 96.16L615.73 100.76L610.67 100.76Z" fill="#EB0064"/></g>
<path d="M381.00 288.80 L382.85 287.29 L384.71 285.98 L386.56 284.91 L388.41 283.98 L390.27 283.06 L392.12 282.16 L393.98 281.29 L395.83 280.41 L397.68 279.49 L399.54 278.47 L401.39 277.33 L403.24 276.08 L405.10 274.73 L406.95 273.29 L408.80 271.79 L410.66 270.24 L412.51 268.57 L414.37 266.80 L416.22 264.97 L418.07 263.11 L419.93 261.27 L421.78 259.46 L423.63 257.66 L425.49 255.84 L427.34 253.98 L429.20 252.06 L431.05 250.05 L432.90 247.95 L434.76 245.77 L436.61 243.57 L438.46 241.38 L440.32 239.24 L442.17 237.16 L444.02 235.12 L445.88 233.08 L447.73 231.01 L449.59 228.89 L451.44 226.69 L453.29 224.44 L455.15 222.14 L457.00 219.82 L458.85 217.46 L460.71 215.09 L462.56 212.69 L464.41 210.26 L466.27 207.80 L468.12 205.33 L469.98 202.83 L471.83 200.32 L473.68 197.77 L475.54 195.21 L477.39 192.63 L479.24 190.05 L481.10 187.48 L482.95 184.91 L484.80 182.34 L486.66 179.76 L488.51 177.14 L490.37 174.47 L492.22 171.74 L494.07 168.96 L495.93 166.16 L497.78 163.35 L499.63 160.55 L501.49 157.76 L503.34 154.96 L505.20 152.15 L507.05 149.37 L508.90 146.61 L510.76 143.90 L512.61 141.24 L514.46 138.61 L516.32 136.00 L518.17 133.39 L520.02 130.77 L521.88 128.15 L523.73 125.54 L525.59 122.93 L527.44 120.30 L529.29 117.63 L531.15 114.91 L533.00 112.16 L534.85 109.37 L536.71 106.55 L538.56 103.71 L540.41 100.86 L542.27 97.93 L544.12 94.97 L545.98 92.06 L547.83 89.26 L549.68 86.54 L551.54 83.89 L553.39 81.29 L555.24 78.75 L557.10 76.26 L558.95 73.84 L560.80 71.51 L562.66 69.31 L564.51 67.09 L566.37 64.64 L568.22 62.06 L570.07 59.72 L571.93 57.63 L573.78 55.74 L575.63 54.20 L577.49 52.93 L579.34 51.86 L581.20 51.14 L583.05 50.62 L584.90 50.23 L586.76 50.11 L588.61 50.42 L590.46 51.10 L592.32 52.02 L594.17 53.72 L596.02 56.36 L597.88 60.17 L599.73 65.93 L601.59 73.47 L603.44 81.52 L605.29 86.44 L607.15 91.53 L609.00 98.80" fill="none" stroke="#ED7D31" stroke-width="0.8" stroke-dasharray="2 1.2"/>
<g><rect x="378.70" y="286.50" width="4.60" height="4.60" fill="#ED7D31"/><rect x="380.55" y="284.99" width="4.60" height="4.60" fill="#ED7D31"/><rect x="382.41" y="283.68" width="4.60" height="4.60" fill="#ED7D31"/><rect x="384.26" y="282.61" width="4.60" height="4.60" fill="#ED7D31"/><rect x="386.11" y="281.68" width="4.60" height="4.60" fill="#ED7D31"/><rect x="387.97" y="280.76" width="4.60" height="4.60" fill="#ED7D31"/><rect x="389.82" y="279.86" width="4.60" height="4.60" fill="#ED7D31"/><rect x="391.68" y="278.99" width="4.60" height="4.60" fill="#ED7D31"/><rect x="393.53" y="278.11" width="4.60" height="4.60" fill="#ED7D31"/><rect x="395.38" y="277.19" width="4.60" height="4.60" fill="#ED7D31"/><rect x="397.24" y="276.17" width="4.60" height="4.60" fill="#ED7D31"/><rect x="399.09" y="275.03" width="4.60" height="4.60" fill="#ED7D31"/><rect x="400.94" y="273.78" width="4.60" height="4.60" fill="#ED7D31"/><rect x="402.80" y="272.43" width="4.60" height="4.60" fill="#ED7D31"/><rect x="404.65" y="270.99" width="4.60" height="4.60" fill="#ED7D31"/><rect x="406.50" y="269.49" width="4.60" height="4.60" fill="#ED7D31"/><rect x="408.36" y="267.94" width="4.60" height="4.60" fill="#ED7D31"/><rect x="410.21" y="266.27" width="4.60" height="4.60" fill="#ED7D31"/><rect x="412.07" y="264.50" width="4.60" height="4.60" fill="#ED7D31"/><rect x="413.92" y="262.67" width="4.60" height="4.60" fill="#ED7D31"/><rect x="415.77" y="260.81" width="4.60" height="4.60" fill="#ED7D31"/><rect x="417.63" y="258.97" width="4.60" height="4.60" fill="#ED7D31"/><rect x="419.48" y="257.16" width="4.60" height="4.60" fill="#ED7D31"/><rect x="421.33" y="255.36" width="4.60" height="4.60" fill="#ED7D31"/><rect x="423.19" y="253.54" width="4.60" height="4.60" fill="#ED7D31"/><rect x="425.04" y="251.68" width="4.60" height="4.60" fill="#ED7D31"/><rect x="426.90" y="249.76" width="4.60" height="4.60" fill="#ED7D31"/><rect x="428.75" y="247.75" width="4.60" height="4.60" fill="#ED7D31"/><rect x="430.60" y="245.65" width="4.60" height="4.60" fill="#ED7D31"/><rect x="432.46" y="243.47" width="4.60" height="4.60" fill="#ED7D31"/><rect x="434.31" y="241.27" width="4.60" height="4.60" fill="#ED7D31"/><rect x="436.16" y="239.08" width="4.60" height="4.60" fill="#ED7D31"/><rect x="438.02" y="236.94" width="4.60" height="4.60" fill="#ED7D31"/><rect x="439.87" y="234.86" width="4.60" height="4.60" fill="#ED7D31"/><rect x="441.72" y="232.82" width="4.60" height="4.60" fill="#ED7D31"/><rect x="443.58" y="230.78" width="4.60" height="4.60" fill="#ED7D31"/><rect x="445.43" y="228.71" width="4.60" height="4.60" fill="#ED7D31"/><rect x="447.29" y="226.59" width="4.60" height="4.60" fill="#ED7D31"/><rect x="449.14" y="224.39" width="4.60" height="4.60" fill="#ED7D31"/><rect x="450.99" y="222.14" width="4.60" height="4.60" fill="#ED7D31"/><rect x="452.85" y="219.84" width="4.60" height="4.60" fill="#ED7D31"/><rect x="454.70" y="217.52" width="4.60" height="4.60" fill="#ED7D31"/><rect x="456.55" y="215.16" width="4.60" height="4.60" fill="#ED7D31"/><rect x="458.41" y="212.79" width="4.60" height="4.60" fill="#ED7D31"/><rect x="460.26" y="210.39" width="4.60" height="4.60" fill="#ED7D31"/><rect x="462.11" y="207.96" width="4.60" height="4.60" fill="#ED7D31"/><rect x="463.97" y="205.50" width="4.60" height="4.60" fill="#ED7D31"/><rect x="465.82" y="203.03" width="4.60" height="4.60" fill="#ED7D31"/><rect x="467.68" y="200.53" width="4.60" height="4.60" fill="#ED7D31"/><rect x="469.53" y="198.02" width="4.60" height="4.60" fill="#ED7D31"/><rect x="471.38" y="195.47" width="4.60" height="4.60" fill="#ED7D31"/><rect x="473.24" y="192.91" width="4.60" height="4.60" fill="#ED7D31"/><rect x="475.09" y="190.33" width="4.60" height="4.60" fill="#ED7D31"/><rect x="476.94" y="187.75" width="4.60" height="4.60" fill="#ED7D31"/><rect x="478.80" y="185.18" width="4.60" height="4.60" fill="#ED7D31"/><rect x="480.65" y="182.61" width="4.60" height="4.60" fill="#ED7D31"/><rect x="482.50" y="180.04" width="4.60" height="4.60" fill="#ED7D31"/><rect x="484.36" y="177.46" width="4.60" height="4.60" fill="#ED7D31"/><rect x="486.21" y="174.84" width="4.60" height="4.60" fill="#ED7D31"/><rect x="488.07" y="172.17" width="4.60" height="4.60" fill="#ED7D31"/><rect x="489.92" y="169.44" width="4.60" height="4.60" fill="#ED7D31"/><rect x="491.77" y="166.66" width="4.60" height="4.60" fill="#ED7D31"/><rect x="493.63" y="163.86" width="4.60" height="4.60" fill="#ED7D31"/><rect x="495.48" y="161.05" width="4.60" height="4.60" fill="#ED7D31"/><rect x="497.33" y="158.25" width="4.60" height="4.60" fill="#ED7D31"/><rect x="499.19" y="155.46" width="4.60" height="4.60" fill="#ED7D31"/><rect x="501.04" y="152.66" width="4.60" height="4.60" fill="#ED7D31"/><rect x="502.90" y="149.85" width="4.60" height="4.60" fill="#ED7D31"/><rect x="504.75" y="147.07" width="4.60" height="4.60" fill="#ED7D31"/><rect x="506.60" y="144.31" width="4.60" height="4.60" fill="#ED7D31"/><rect x="508.46" y="141.60" width="4.60" height="4.60" fill="#ED7D31"/><rect x="510.31" y="138.94" width="4.60" height="4.60" fill="#ED7D31"/><rect x="512.16" y="136.31" width="4.60" height="4.60" fill="#ED7D31"/><rect x="514.02" y="133.70" width="4.60" height="4.60" fill="#ED7D31"/><rect x="515.87" y="131.09" width="4.60" height="4.60" fill="#ED7D31"/><rect x="517.72" y="128.47" width="4.60" height="4.60" fill="#ED7D31"/><rect x="519.58" y="125.85" width="4.60" height="4.60" fill="#ED7D31"/><rect x="521.43" y="123.24" width="4.60" height="4.60" fill="#ED7D31"/><rect x="523.29" y="120.63" width="4.60" height="4.60" fill="#ED7D31"/><rect x="525.14" y="118.00" width="4.60" height="4.60" fill="#ED7D31"/><rect x="526.99" y="115.33" width="4.60" height="4.60" fill="#ED7D31"/><rect x="528.85" y="112.61" width="4.60" height="4.60" fill="#ED7D31"/><rect x="530.70" y="109.86" width="4.60" height="4.60" fill="#ED7D31"/><rect x="532.55" y="107.07" width="4.60" height="4.60" fill="#ED7D31"/><rect x="534.41" y="104.25" width="4.60" height="4.60" fill="#ED7D31"/><rect x="536.26" y="101.41" width="4.60" height="4.60" fill="#ED7D31"/><rect x="538.11" y="98.56" width="4.60" height="4.60" fill="#ED7D31"/><rect x="539.97" y="95.63" width="4.60" height="4.60" fill="#ED7D31"/><rect x="541.82" y="92.67" width="4.60" height="4.60" fill="#ED7D31"/><rect x="543.68" y="89.76" width="4.60" height="4.60" fill="#ED7D31"/><rect x="545.53" y="86.96" width="4.60" height="4.60" fill="#ED7D31"/><rect x="547.38" y="84.24" width="4.60" height="4.60" fill="#ED7D31"/><rect x="549.24" y="81.59" width="4.60" height="4.60" fill="#ED7D31"/><rect x="551.09" y="78.99" width="4.60" height="4.60" fill="#ED7D31"/><rect x="552.94" y="76.45" width="4.60" height="4.60" fill="#ED7D31"/><rect x="554.80" y="73.96" width="4.60" height="4.60" fill="#ED7D31"/><rect x="556.65" y="71.54" width="4.60" height="4.60" fill="#ED7D31"/><rect x="558.50" y="69.21" width="4.60" height="4.60" fill="#ED7D31"/><rect x="560.36" y="67.01" width="4.60" height="4.60" fill="#ED7D31"/><rect x="562.21" y="64.79" width="4.60" height="4.60" fill="#ED7D31"/><rect x="564.07" y="62.34" width="4.60" height="4.60" fill="#ED7D31"/><rect x="565.92" y="59.76" width="4.60" height="4.60" fill="#ED7D31"/><rect x="567.77" y="57.42" width="4.60" height="4.60" fill="#ED7D31"/><rect x="569.63" y="55.33" width="4.60" height="4.60" fill="#ED7D31"/><rect x="571.48" y="53.44" width="4.60" height="4.60" fill="#ED7D31"/><rect x="573.33" y="51.90" width="4.60" height="4.60" fill="#ED7D31"/><rect x="575.19" y="50.63" width="4.60" height="4.60" fill="#ED7D31"/><rect x="577.04" y="49.56" width="4.60" height="4.60" fill="#ED7D31"/><rect x="578.90" y="48.84" width="4.60" height="4.60" fill="#ED7D31"/><rect x="580.75" y="48.32" width="4.60" height="4.60" fill="#ED7D31"/><rect x="582.60" y="47.93" width="4.60" height="4.60" fill="#ED7D31"/><rect x="584.46" y="47.81" width="4.60" height="4.60" fill="#ED7D31"/><rect x="586.31" y="48.12" width="4.60" height="4.60" fill="#ED7D31"/><rect x="588.16" y="48.80" width="4.60" height="4.60" fill="#ED7D31"/><rect x="590.02" y="49.72" width="4.60" height="4.60" fill="#ED7D31"/><rect x="591.87" y="51.42" width="4.60" height="4.60" fill="#ED7D31"/><rect x="593.72" y="54.06" width="4.60" height="4.60" fill="#ED7D31"/><rect x="595.58" y="57.87" width="4.60" height="4.60" fill="#ED7D31"/><rect x="597.43" y="63.63" width="4.60" height="4.60" fill="#ED7D31"/><rect x="599.29" y="71.17" width="4.60" height="4.60" fill="#ED7D31"/><rect x="601.14" y="79.22" width="4.60" height="4.60" fill="#ED7D31"/><rect x="602.99" y="84.14" width="4.60" height="4.60" fill="#ED7D31"/><rect x="604.85" y="89.23" width="4.60" height="4.60" fill="#ED7D31"/><rect x="606.70" y="96.50" width="4.60" height="4.60" fill="#ED7D31"/></g>
<line x1="586.4" y1="214.5" x2="615.2" y2="214.5" stroke="#7030A0" stroke-width="1.05" stroke-dasharray="2.2 1.1"/>
<path d="M600.80 212.66L602.64 214.50L600.80 216.34L598.96 214.50Z" fill="#7030A0"/>
<text class="t" transform="translate(618.60,218.10) scale(1,1.08)" font-size="11.1" xml:space="preserve">SC</text>
<line x1="586.4" y1="233" x2="615.2" y2="233" stroke="#00B050" stroke-width="1.05" stroke-dasharray="2.2 1.1"/>
<rect x="598.70" y="230.90" width="4.20" height="4.20" fill="#00B050"/>
<text class="t" transform="translate(618.60,236.60) scale(1,1.08)" font-size="11.1" xml:space="preserve">RBCA-15</text>
<line x1="586.4" y1="252" x2="615.2" y2="252" stroke="#EB0064" stroke-width="1.05" stroke-dasharray="2.2 1.1"/>
<path d="M600.80 249.59L603.11 253.78L598.49 253.78Z" fill="#EB0064"/>
<text class="t" transform="translate(618.60,255.60) scale(1,1.08)" font-size="11.1" xml:space="preserve">RBCA-30</text>
<line x1="586.4" y1="271.1" x2="615.2" y2="271.1" stroke="#ED7D31" stroke-width="1.05" stroke-dasharray="2.2 1.1"/>
<rect x="598.70" y="269.00" width="4.20" height="4.20" fill="#ED7D31"/>
<text class="t" transform="translate(618.60,274.70) scale(1,1.08)" font-size="11.1" xml:space="preserve">RBCA-50</text>
<text class="c" transform="translate(34,349.6) scale(1,1.06)" font-size="21">(a) 7-days normalized stress</text>
<text class="c" transform="translate(408.6,349.6) scale(1,1.06)" font-size="21">(b) 28-days normalized stress</text>
</svg>
</body></html>
